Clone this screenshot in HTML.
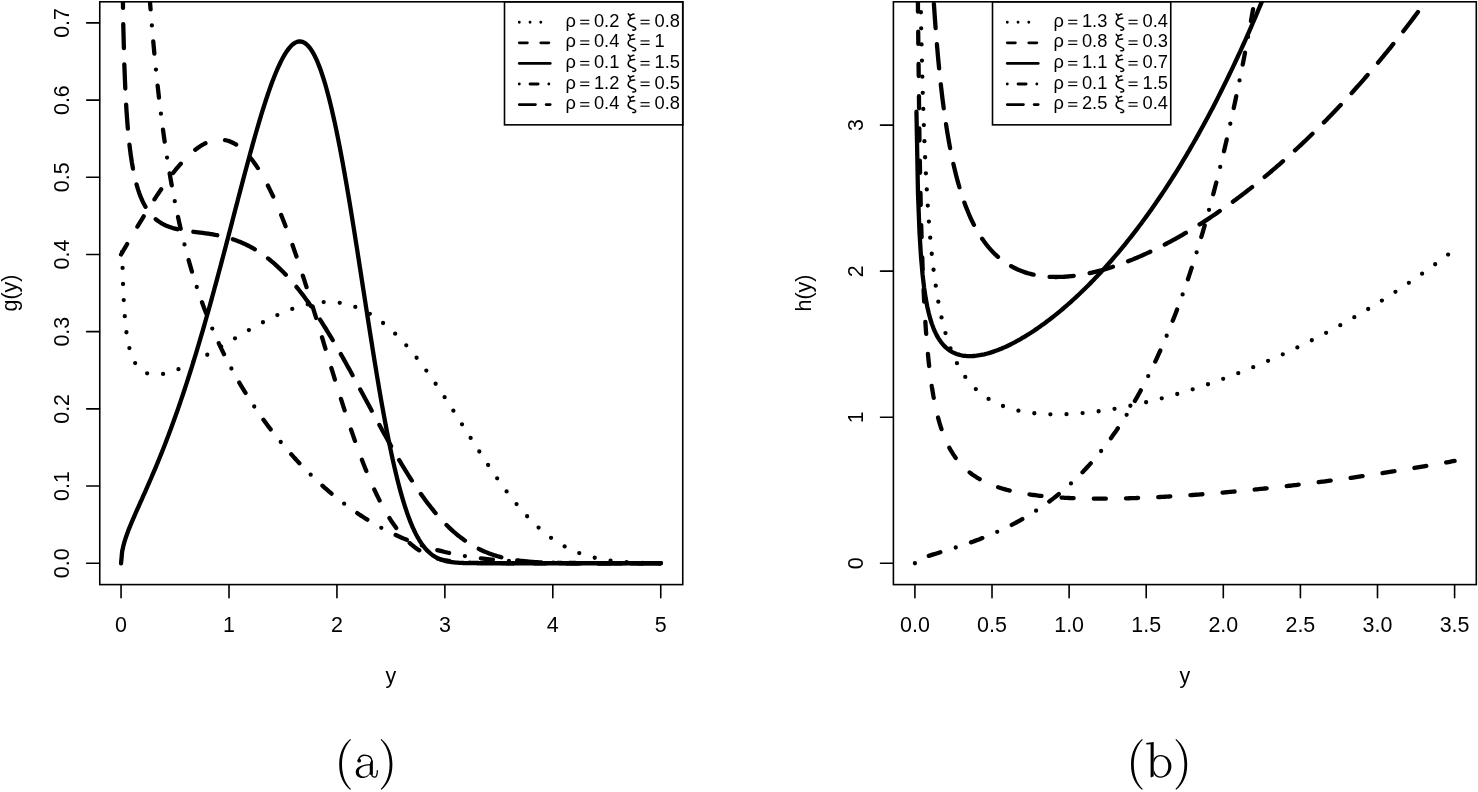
<!DOCTYPE html><html><head><meta charset="utf-8"><style>html,body{margin:0;padding:0;background:#fff;overflow:hidden}svg{display:block;will-change:transform}</style></head><body><svg width="1478" height="792" viewBox="0 0 1478 792"><rect x="0" y="0" width="1478" height="792" fill="#fff"/><defs><clipPath id="cl"><rect x="99.47" y="1.30" width="582.87" height="583.55"/></clipPath><clipPath id="cr"><rect x="893.32" y="1.30" width="582.87" height="583.55"/></clipPath></defs><g clip-path="url(#cl)" fill="none" stroke="#000" stroke-width="4.300" stroke-linecap="round" stroke-linejoin="round"><path d="M122.14 251.78L123.22 290.68L124.30 310.51L125.38 323.26L126.45 332.38L127.53 339.31L128.61 344.79L129.69 349.24L130.77 352.93L131.85 356.04L132.93 358.68L134.01 360.95L135.09 362.91L136.17 364.61L137.25 366.10L138.33 367.40L139.41 368.53L140.49 369.52L141.57 370.39L142.65 371.15L143.72 371.81L144.80 372.38L145.88 372.87L146.96 373.28L148.04 373.63L149.12 373.92L150.20 374.16L151.28 374.34L152.36 374.48L153.44 374.57L154.52 374.62L155.60 374.64L156.68 374.62L157.76 374.56L158.84 374.48L159.92 374.36L161.00 374.22L162.07 374.06L163.15 373.87L164.23 373.65L165.31 373.42L166.39 373.16L167.47 372.89L168.55 372.60L169.63 372.29L170.71 371.96L171.79 371.62L172.87 371.26L173.95 370.88L175.03 370.50L176.11 370.10L177.19 369.69L178.27 369.26L179.34 368.83L180.42 368.38L181.50 367.92L182.58 367.45L183.66 366.98L184.74 366.49L185.82 365.99L186.90 365.49L187.98 364.98L189.06 364.46L190.14 363.93L191.22 363.39L192.30 362.85L193.38 362.30L194.46 361.75L195.54 361.18L196.61 360.62L197.69 360.04L198.77 359.47L199.85 358.88L200.93 358.29L202.01 357.70L203.09 357.10L204.17 356.50L205.25 355.90L206.33 355.29L207.41 354.67L208.49 354.06L209.57 353.44L210.65 352.81L211.73 352.19L212.81 351.56L213.89 350.93L214.96 350.29L216.04 349.66L217.12 349.02L218.20 348.38L219.28 347.74L220.36 347.10L221.44 346.45L222.52 345.81L223.60 345.16L224.68 344.51L225.76 343.86L226.84 343.22L227.92 342.57L229.00 341.92L230.08 341.27L231.16 340.62L232.23 339.97L233.31 339.32L234.39 338.67L235.47 338.03L236.55 337.38L237.63 336.74L238.71 336.09L239.79 335.45L240.87 334.81L241.95 334.17L243.03 333.53L244.11 332.89L245.19 332.26L246.27 331.63L247.35 331.00L248.43 330.37L249.51 329.75L250.58 329.12L251.66 328.51L252.74 327.89L253.82 327.28L254.90 326.67L255.98 326.06L257.06 325.46L258.14 324.87L259.22 324.27L260.30 323.68L261.38 323.10L262.46 322.52L263.54 321.94L264.62 321.37L265.70 320.80L266.78 320.24L267.85 319.69L268.93 319.14L270.01 318.59L271.09 318.05L272.17 317.52L273.25 317.00L274.33 316.48L275.41 315.96L276.49 315.45L277.57 314.95L278.65 314.46L279.73 313.97L280.81 313.49L281.89 313.02L282.97 312.56L284.05 312.10L285.12 311.65L286.20 311.21L287.28 310.78L288.36 310.35L289.44 309.94L290.52 309.53L291.60 309.13L292.68 308.74L293.76 308.36L294.84 307.99L295.92 307.63L297.00 307.28L298.08 306.93L299.16 306.60L300.24 306.28L301.32 305.97L302.40 305.67L303.47 305.38L304.55 305.10L305.63 304.83L306.71 304.57L307.79 304.32L308.87 304.09L309.95 303.87L311.03 303.65L312.11 303.45L313.19 303.27L314.27 303.09L315.35 302.93L316.43 302.78L317.51 302.64L318.59 302.52L319.67 302.40L320.74 302.30L321.82 302.22L322.90 302.15L323.98 302.09L325.06 302.04L326.14 302.01L327.22 302.00L328.30 301.99L329.38 302.00L330.46 302.03L331.54 302.07L332.62 302.13L333.70 302.20L334.78 302.28L335.86 302.38L336.94 302.50L338.01 302.63L339.09 302.77L340.17 302.93L341.25 303.11L342.33 303.31L343.41 303.52L344.49 303.74L345.57 303.98L346.65 304.24L347.73 304.51L348.81 304.80L349.89 305.11L350.97 305.44L352.05 305.78L353.13 306.13L354.21 306.51L355.29 306.90L356.36 307.31L357.44 307.73L358.52 308.18L359.60 308.64L360.68 309.11L361.76 309.61L362.84 310.12L363.92 310.65L365.00 311.20L366.08 311.76L367.16 312.35L368.24 312.95L369.32 313.57L370.40 314.20L371.48 314.86L372.56 315.53L373.63 316.22L374.71 316.92L375.79 317.65L376.87 318.39L377.95 319.15L379.03 319.93L380.11 320.73L381.19 321.55L382.27 322.38L383.35 323.23L384.43 324.10L385.51 324.98L386.59 325.89L387.67 326.81L388.75 327.74L389.83 328.70L390.90 329.67L391.98 330.67L393.06 331.67L394.14 332.70L395.22 333.74L396.30 334.80L397.38 335.88L398.46 336.97L399.54 338.08L400.62 339.21L401.70 340.35L402.78 341.51L403.86 342.69L404.94 343.88L406.02 345.09L407.10 346.31L408.18 347.55L409.25 348.81L410.33 350.08L411.41 351.36L412.49 352.66L413.57 353.98L414.65 355.31L415.73 356.65L416.81 358.01L417.89 359.39L418.97 360.77L420.05 362.17L421.13 363.59L422.21 365.01L423.29 366.45L424.37 367.91L425.45 369.37L426.52 370.85L427.60 372.34L428.68 373.84L429.76 375.35L430.84 376.87L431.92 378.41L433.00 379.95L434.08 381.50L435.16 383.07L436.24 384.64L437.32 386.23L438.40 387.82L439.48 389.42L440.56 391.03L441.64 392.65L442.72 394.28L443.80 395.91L444.87 397.55L445.95 399.20L447.03 400.85L448.11 402.51L449.19 404.18L450.27 405.85L451.35 407.53L452.43 409.21L453.51 410.89L454.59 412.58L455.67 414.27L456.75 415.97L457.83 417.67L458.91 419.37L459.99 421.08L461.07 422.78L462.14 424.49L463.22 426.20L464.30 427.91L465.38 429.62L466.46 431.32L467.54 433.03L468.62 434.74L469.70 436.45L470.78 438.15L471.86 439.86L472.94 441.56L474.02 443.25L475.10 444.95L476.18 446.64L477.26 448.33L478.34 450.01L479.41 451.69L480.49 453.36L481.57 455.03L482.65 456.69L483.73 458.35L484.81 460.00L485.89 461.64L486.97 463.28L488.05 464.91L489.13 466.53L490.21 468.14L491.29 469.75L492.37 471.34L493.45 472.93L494.53 474.50L495.61 476.07L496.69 477.63L497.76 479.17L498.84 480.71L499.92 482.23L501.00 483.74L502.08 485.25L503.16 486.73L504.24 488.21L505.32 489.68L506.40 491.13L507.48 492.57L508.56 493.99L509.64 495.40L510.72 496.80L511.80 498.19L512.88 499.56L513.96 500.91L515.03 502.25L516.11 503.58L517.19 504.89L518.27 506.19L519.35 507.47L520.43 508.74L521.51 509.99L522.59 511.22L523.67 512.44L524.75 513.64L525.83 514.83L526.91 516.00L527.99 517.15L529.07 518.29L530.15 519.41L531.23 520.51L532.30 521.60L533.38 522.67L534.46 523.73L535.54 524.76L536.62 525.78L537.70 526.79L538.78 527.77L539.86 528.74L540.94 529.69L542.02 530.63L543.10 531.55L544.18 532.45L545.26 533.33L546.34 534.20L547.42 535.05L548.50 535.89L549.58 536.70L550.65 537.51L551.73 538.29L552.81 539.06L553.89 539.81L554.97 540.55L556.05 541.27L557.13 541.97L558.21 542.66L559.29 543.33L560.37 543.99L561.45 544.63L562.53 545.25L563.61 545.86L564.69 546.46L565.77 547.04L566.85 547.60L567.92 548.16L569.00 548.69L570.08 549.21L571.16 549.72L572.24 550.22L573.32 550.70L574.40 551.17L575.48 551.62L576.56 552.06L577.64 552.49L578.72 552.91L579.80 553.31L580.88 553.71L581.96 554.09L583.04 554.45L584.12 554.81L585.19 555.16L586.27 555.49L587.35 555.81L588.43 556.13L589.51 556.43L590.59 556.72L591.67 557.00L592.75 557.28L593.83 557.54L594.91 557.79L595.99 558.04L597.07 558.27L598.15 558.50L599.23 558.72L600.31 558.93L601.39 559.13L602.47 559.33L603.54 559.52L604.62 559.70L605.70 559.87L606.78 560.03L607.86 560.19L608.94 560.35L610.02 560.49L611.10 560.63L612.18 560.77L613.26 560.89L614.34 561.02L615.42 561.13L616.50 561.25L617.58 561.35L618.66 561.46L619.74 561.55L620.81 561.65L621.89 561.74L622.97 561.82L624.05 561.90L625.13 561.98L626.21 562.05L627.29 562.12L628.37 562.18L629.45 562.25L630.53 562.31L631.61 562.36L632.69 562.42L633.77 562.47L634.85 562.51L635.93 562.56L637.01 562.60L638.09 562.64L639.16 562.68L640.24 562.72L641.32 562.75L642.40 562.78L643.48 562.81L644.56 562.84L645.64 562.87L646.72 562.89L647.80 562.92L648.88 562.94L649.96 562.96L651.04 562.98L652.12 563.00L653.20 563.01L654.28 563.03L655.36 563.05L656.43 563.06L657.51 563.07L658.59 563.09L659.67 563.10L660.75 563.11" stroke-dasharray="0 16.120"/><path d="M121.06 254.48L122.14 252.63L123.22 250.78L124.30 248.93L125.38 247.08L126.45 245.24L127.53 243.40L128.61 241.56L129.69 239.72L130.77 237.89L131.85 236.07L132.93 234.24L134.01 232.42L135.09 230.61L136.17 228.80L137.25 227.00L138.33 225.20L139.41 223.41L140.49 221.63L141.57 219.85L142.65 218.08L143.72 216.32L144.80 214.57L145.88 212.82L146.96 211.09L148.04 209.36L149.12 207.65L150.20 205.94L151.28 204.24L152.36 202.56L153.44 200.89L154.52 199.23L155.60 197.58L156.68 195.94L157.76 194.32L158.84 192.71L159.92 191.12L161.00 189.53L162.07 187.97L163.15 186.42L164.23 184.89L165.31 183.37L166.39 181.87L167.47 180.38L168.55 178.92L169.63 177.47L170.71 176.04L171.79 174.64L172.87 173.25L173.95 171.88L175.03 170.53L176.11 169.20L177.19 167.90L178.27 166.62L179.34 165.36L180.42 164.12L181.50 162.91L182.58 161.72L183.66 160.56L184.74 159.42L185.82 158.31L186.90 157.23L187.98 156.17L189.06 155.14L190.14 154.14L191.22 153.16L192.30 152.22L193.38 151.30L194.46 150.42L195.54 149.57L196.61 148.75L197.69 147.96L198.77 147.20L199.85 146.47L200.93 145.78L202.01 145.12L203.09 144.50L204.17 143.91L205.25 143.36L206.33 142.84L207.41 142.36L208.49 141.92L209.57 141.51L210.65 141.14L211.73 140.81L212.81 140.52L213.89 140.27L214.96 140.06L216.04 139.89L217.12 139.76L218.20 139.67L219.28 139.62L220.36 139.62L221.44 139.65L222.52 139.73L223.60 139.86L224.68 140.02L225.76 140.24L226.84 140.49L227.92 140.79L229.00 141.14L230.08 141.53L231.16 141.97L232.23 142.45L233.31 142.98L234.39 143.56L235.47 144.18L236.55 144.85L237.63 145.57L238.71 146.34L239.79 147.15L240.87 148.02L241.95 148.93L243.03 149.89L244.11 150.90L245.19 151.96L246.27 153.06L247.35 154.22L248.43 155.43L249.51 156.68L250.58 157.99L251.66 159.34L252.74 160.74L253.82 162.20L254.90 163.70L255.98 165.25L257.06 166.85L258.14 168.50L259.22 170.20L260.30 171.95L261.38 173.75L262.46 175.59L263.54 177.49L264.62 179.43L265.70 181.42L266.78 183.46L267.85 185.55L268.93 187.68L270.01 189.86L271.09 192.08L272.17 194.36L273.25 196.67L274.33 199.04L275.41 201.44L276.49 203.89L277.57 206.39L278.65 208.93L279.73 211.51L280.81 214.13L281.89 216.80L282.97 219.50L284.05 222.24L285.12 225.03L286.20 227.85L287.28 230.71L288.36 233.61L289.44 236.54L290.52 239.51L291.60 242.52L292.68 245.55L293.76 248.62L294.84 251.73L295.92 254.86L297.00 258.03L298.08 261.22L299.16 264.44L300.24 267.69L301.32 270.96L302.40 274.26L303.47 277.59L304.55 280.94L305.63 284.30L306.71 287.69L307.79 291.10L308.87 294.53L309.95 297.98L311.03 301.44L312.11 304.91L313.19 308.40L314.27 311.91L315.35 315.42L316.43 318.94L317.51 322.47L318.59 326.01L319.67 329.56L320.74 333.11L321.82 336.67L322.90 340.22L323.98 343.78L325.06 347.34L326.14 350.90L327.22 354.45L328.30 358.00L329.38 361.54L330.46 365.08L331.54 368.61L332.62 372.13L333.70 375.64L334.78 379.14L335.86 382.63L336.94 386.10L338.01 389.55L339.09 392.99L340.17 396.42L341.25 399.82L342.33 403.20L343.41 406.56L344.49 409.90L345.57 413.22L346.65 416.51L347.73 419.77L348.81 423.01L349.89 426.22L350.97 429.40L352.05 432.55L353.13 435.67L354.21 438.76L355.29 441.82L356.36 444.84L357.44 447.83L358.52 450.78L359.60 453.70L360.68 456.58L361.76 459.42L362.84 462.23L363.92 464.99L365.00 467.72L366.08 470.40L367.16 473.05L368.24 475.65L369.32 478.22L370.40 480.74L371.48 483.22L372.56 485.65L373.63 488.04L374.71 490.39L375.79 492.70L376.87 494.96L377.95 497.18L379.03 499.35L380.11 501.48L381.19 503.56L382.27 505.60L383.35 507.59L384.43 509.54L385.51 511.45L386.59 513.31L387.67 515.12L388.75 516.90L389.83 518.62L390.90 520.31L391.98 521.95L393.06 523.55L394.14 525.10L395.22 526.61L396.30 528.08L397.38 529.51L398.46 530.90L399.54 532.25L400.62 533.55L401.70 534.82L402.78 536.04L403.86 537.23L404.94 538.38L406.02 539.49L407.10 540.57L408.18 541.61L409.25 542.61L410.33 543.58L411.41 544.51L412.49 545.41L413.57 546.28L414.65 547.11L415.73 547.91L416.81 548.68L417.89 549.43L418.97 550.14L420.05 550.82L421.13 551.47L422.21 552.10L423.29 552.70L424.37 553.28L425.45 553.83L426.52 554.35L427.60 554.85L428.68 555.33L429.76 555.79L430.84 556.22L431.92 556.64L433.00 557.03L434.08 557.41L435.16 557.76L436.24 558.10L437.32 558.42L438.40 558.73L439.48 559.02L440.56 559.29L441.64 559.55L442.72 559.79L443.80 560.02L444.87 560.24L445.95 560.44L447.03 560.64L448.11 560.82L449.19 560.99L450.27 561.15L451.35 561.30L452.43 561.44L453.51 561.57L454.59 561.70L455.67 561.81L456.75 561.92L457.83 562.02L458.91 562.12L459.99 562.21L461.07 562.29L462.14 562.36L463.22 562.43L464.30 562.50L465.38 562.56L466.46 562.62L467.54 562.67L468.62 562.72L469.70 562.76L470.78 562.81L471.86 562.84L472.94 562.88L474.02 562.91L475.10 562.94L476.18 562.97L477.26 562.99L478.34 563.02L479.41 563.04L480.49 563.06L481.57 563.07L482.65 563.09L483.73 563.10L484.81 563.12L485.89 563.13L486.97 563.14L488.05 563.15L489.13 563.16L490.21 563.17L491.29 563.18L492.37 563.18L493.45 563.19L494.53 563.19L495.61 563.20L496.69 563.20L497.76 563.21L498.84 563.21L499.92 563.21L501.00 563.22L502.08 563.22L503.16 563.22L504.24 563.22L505.32 563.22L506.40 563.23L507.48 563.23L508.56 563.23L509.64 563.23L510.72 563.23L511.80 563.23L512.88 563.23L513.96 563.23L515.03 563.23L516.11 563.23L517.19 563.23L518.27 563.23L519.35 563.23L520.43 563.24L521.51 563.24L522.59 563.24L523.67 563.24L524.75 563.24L525.83 563.24L526.91 563.24L527.99 563.24L529.07 563.24L530.15 563.24L531.23 563.24L532.30 563.24L533.38 563.24L534.46 563.24L535.54 563.24L536.62 563.24L537.70 563.24L538.78 563.24L539.86 563.24L540.94 563.24L542.02 563.24L543.10 563.24L544.18 563.24L545.26 563.24L546.34 563.24L547.42 563.24L548.50 563.24L549.58 563.24L550.65 563.24L551.73 563.24L552.81 563.24L553.89 563.24L554.97 563.24L556.05 563.24L557.13 563.24L558.21 563.24L559.29 563.24L560.37 563.24L561.45 563.24L562.53 563.24L563.61 563.24L564.69 563.24L565.77 563.24L566.85 563.24L567.92 563.24L569.00 563.24L570.08 563.24L571.16 563.24L572.24 563.24L573.32 563.24L574.40 563.24L575.48 563.24L576.56 563.24L577.64 563.24L578.72 563.24L579.80 563.24L580.88 563.24L581.96 563.24L583.04 563.24L584.12 563.24L585.19 563.24L586.27 563.24L587.35 563.24L588.43 563.24L589.51 563.24L590.59 563.24L591.67 563.24L592.75 563.24L593.83 563.24L594.91 563.24L595.99 563.24L597.07 563.24L598.15 563.24L599.23 563.24L600.31 563.24L601.39 563.24L602.47 563.24L603.54 563.24L604.62 563.24L605.70 563.24L606.78 563.24L607.86 563.24L608.94 563.24L610.02 563.24L611.10 563.24L612.18 563.24L613.26 563.24L614.34 563.24L615.42 563.24L616.50 563.24L617.58 563.24L618.66 563.24L619.74 563.24L620.81 563.24L621.89 563.24L622.97 563.24L624.05 563.24L625.13 563.24L626.21 563.24L627.29 563.24L628.37 563.24L629.45 563.24L630.53 563.24L631.61 563.24L632.69 563.24L633.77 563.24L634.85 563.24L635.93 563.24L637.01 563.24L638.09 563.24L639.16 563.24L640.24 563.24L641.32 563.24L642.40 563.24L643.48 563.24L644.56 563.24L645.64 563.24L646.72 563.24L647.80 563.24L648.88 563.24L649.96 563.24L651.04 563.24L652.12 563.24L653.20 563.24L654.28 563.24L655.36 563.24L656.43 563.24L657.51 563.24L658.59 563.24L659.67 563.24L660.75 563.24" stroke-dasharray="12.090 20.150"/><path d="M121.06 563.24L122.14 551.51L123.22 546.45L124.30 542.43L125.38 538.91L126.45 535.71L127.53 532.71L128.61 529.86L129.69 527.13L130.77 524.47L131.85 521.88L132.93 519.34L134.01 516.84L135.09 514.36L136.17 511.91L137.25 509.47L138.33 507.05L139.41 504.63L140.49 502.21L141.57 499.80L142.65 497.38L143.72 494.96L144.80 492.54L145.88 490.10L146.96 487.65L148.04 485.20L149.12 482.72L150.20 480.24L151.28 477.74L152.36 475.22L153.44 472.69L154.52 470.13L155.60 467.56L156.68 464.97L157.76 462.35L158.84 459.72L159.92 457.06L161.00 454.39L162.07 451.68L163.15 448.96L164.23 446.21L165.31 443.43L166.39 440.64L167.47 437.81L168.55 434.96L169.63 432.09L170.71 429.19L171.79 426.26L172.87 423.30L173.95 420.32L175.03 417.31L176.11 414.27L177.19 411.21L178.27 408.12L179.34 405.00L180.42 401.85L181.50 398.67L182.58 395.47L183.66 392.24L184.74 388.98L185.82 385.69L186.90 382.37L187.98 379.03L189.06 375.65L190.14 372.25L191.22 368.82L192.30 365.36L193.38 361.88L194.46 358.37L195.54 354.83L196.61 351.26L197.69 347.66L198.77 344.04L199.85 340.40L200.93 336.72L202.01 333.03L203.09 329.30L204.17 325.55L205.25 321.78L206.33 317.99L207.41 314.16L208.49 310.32L209.57 306.46L210.65 302.57L211.73 298.66L212.81 294.73L213.89 290.78L214.96 286.81L216.04 282.83L217.12 278.82L218.20 274.80L219.28 270.77L220.36 266.71L221.44 262.65L222.52 258.57L223.60 254.48L224.68 250.38L225.76 246.26L226.84 242.14L227.92 238.01L229.00 233.88L230.08 229.74L231.16 225.59L232.23 221.44L233.31 217.30L234.39 213.15L235.47 209.00L236.55 204.86L237.63 200.72L238.71 196.58L239.79 192.46L240.87 188.34L241.95 184.23L243.03 180.14L244.11 176.06L245.19 172.00L246.27 167.96L247.35 163.94L248.43 159.94L249.51 155.96L250.58 152.01L251.66 148.09L252.74 144.20L253.82 140.35L254.90 136.53L255.98 132.74L257.06 129.00L258.14 125.29L259.22 121.64L260.30 118.02L261.38 114.46L262.46 110.95L263.54 107.50L264.62 104.10L265.70 100.76L266.78 97.48L267.85 94.27L268.93 91.12L270.01 88.04L271.09 85.04L272.17 82.11L273.25 79.26L274.33 76.50L275.41 73.81L276.49 71.21L277.57 68.70L278.65 66.29L279.73 63.97L280.81 61.74L281.89 59.62L282.97 57.60L284.05 55.68L285.12 53.88L286.20 52.18L287.28 50.60L288.36 49.14L289.44 47.79L290.52 46.57L291.60 45.47L292.68 44.50L293.76 43.66L294.84 42.95L295.92 42.38L297.00 41.94L298.08 41.64L299.16 41.48L300.24 41.46L301.32 41.59L302.40 41.87L303.47 42.29L304.55 42.87L305.63 43.59L306.71 44.47L307.79 45.51L308.87 46.70L309.95 48.05L311.03 49.55L312.11 51.22L313.19 53.04L314.27 55.03L315.35 57.18L316.43 59.48L317.51 61.95L318.59 64.58L319.67 67.38L320.74 70.33L321.82 73.44L322.90 76.71L323.98 80.15L325.06 83.73L326.14 87.48L327.22 91.38L328.30 95.43L329.38 99.64L330.46 103.99L331.54 108.49L332.62 113.14L333.70 117.92L334.78 122.85L335.86 127.91L336.94 133.11L338.01 138.44L339.09 143.89L340.17 149.46L341.25 155.15L342.33 160.96L343.41 166.88L344.49 172.90L345.57 179.02L346.65 185.24L347.73 191.55L348.81 197.95L349.89 204.42L350.97 210.97L352.05 217.59L353.13 224.28L354.21 231.02L355.29 237.81L356.36 244.65L357.44 251.53L358.52 258.44L359.60 265.38L360.68 272.34L361.76 279.32L362.84 286.30L363.92 293.29L365.00 300.27L366.08 307.24L367.16 314.19L368.24 321.12L369.32 328.02L370.40 334.88L371.48 341.71L372.56 348.48L373.63 355.20L374.71 361.86L375.79 368.45L376.87 374.98L377.95 381.42L379.03 387.79L380.11 394.07L381.19 400.26L382.27 406.35L383.35 412.34L384.43 418.22L385.51 424.00L386.59 429.66L387.67 435.21L388.75 440.64L389.83 445.95L390.90 451.13L391.98 456.19L393.06 461.11L394.14 465.90L395.22 470.57L396.30 475.09L397.38 479.48L398.46 483.74L399.54 487.86L400.62 491.84L401.70 495.68L402.78 499.39L403.86 502.96L404.94 506.40L406.02 509.70L407.10 512.87L408.18 515.91L409.25 518.82L410.33 521.60L411.41 524.25L412.49 526.79L413.57 529.20L414.65 531.49L415.73 533.67L416.81 535.73L417.89 537.69L418.97 539.54L420.05 541.28L421.13 542.93L422.21 544.48L423.29 545.94L424.37 547.31L425.45 548.59L426.52 549.79L427.60 550.91L428.68 551.95L429.76 552.92L430.84 553.83L431.92 554.67L433.00 555.45L434.08 556.16L435.16 556.83L436.24 557.44L437.32 558.00L438.40 558.52L439.48 558.99L440.56 559.43L441.64 559.82L442.72 560.18L443.80 560.51L444.87 560.81L445.95 561.08L447.03 561.32L448.11 561.54L449.19 561.74L450.27 561.91L451.35 562.07L452.43 562.21L453.51 562.34L454.59 562.45L455.67 562.55L456.75 562.64L457.83 562.72L458.91 562.79L459.99 562.85L461.07 562.90L462.14 562.95L463.22 562.99L464.30 563.03L465.38 563.06L466.46 563.09L467.54 563.11L468.62 563.13L469.70 563.15L470.78 563.16L471.86 563.17L472.94 563.18L474.02 563.19L475.10 563.20L476.18 563.21L477.26 563.21L478.34 563.22L479.41 563.22L480.49 563.22L481.57 563.23L482.65 563.23L483.73 563.23L484.81 563.23L485.89 563.23L486.97 563.23L488.05 563.23L489.13 563.23L490.21 563.24L491.29 563.24L492.37 563.24L493.45 563.24L494.53 563.24L495.61 563.24L496.69 563.24L497.76 563.24L498.84 563.24L499.92 563.24L501.00 563.24L502.08 563.24L503.16 563.24L504.24 563.24L505.32 563.24L506.40 563.24L507.48 563.24L508.56 563.24L509.64 563.24L510.72 563.24L511.80 563.24L512.88 563.24L513.96 563.24L515.03 563.24L516.11 563.24L517.19 563.24L518.27 563.24L519.35 563.24L520.43 563.24L521.51 563.24L522.59 563.24L523.67 563.24L524.75 563.24L525.83 563.24L526.91 563.24L527.99 563.24L529.07 563.24L530.15 563.24L531.23 563.24L532.30 563.24L533.38 563.24L534.46 563.24L535.54 563.24L536.62 563.24L537.70 563.24L538.78 563.24L539.86 563.24L540.94 563.24L542.02 563.24L543.10 563.24L544.18 563.24L545.26 563.24L546.34 563.24L547.42 563.24L548.50 563.24L549.58 563.24L550.65 563.24L551.73 563.24L552.81 563.24L553.89 563.24L554.97 563.24L556.05 563.24L557.13 563.24L558.21 563.24L559.29 563.24L560.37 563.24L561.45 563.24L562.53 563.24L563.61 563.24L564.69 563.24L565.77 563.24L566.85 563.24L567.92 563.24L569.00 563.24L570.08 563.24L571.16 563.24L572.24 563.24L573.32 563.24L574.40 563.24L575.48 563.24L576.56 563.24L577.64 563.24L578.72 563.24L579.80 563.24L580.88 563.24L581.96 563.24L583.04 563.24L584.12 563.24L585.19 563.24L586.27 563.24L587.35 563.24L588.43 563.24L589.51 563.24L590.59 563.24L591.67 563.24L592.75 563.24L593.83 563.24L594.91 563.24L595.99 563.24L597.07 563.24L598.15 563.24L599.23 563.24L600.31 563.24L601.39 563.24L602.47 563.24L603.54 563.24L604.62 563.24L605.70 563.24L606.78 563.24L607.86 563.24L608.94 563.24L610.02 563.24L611.10 563.24L612.18 563.24L613.26 563.24L614.34 563.24L615.42 563.24L616.50 563.24L617.58 563.24L618.66 563.24L619.74 563.24L620.81 563.24L621.89 563.24L622.97 563.24L624.05 563.24L625.13 563.24L626.21 563.24L627.29 563.24L628.37 563.24L629.45 563.24L630.53 563.24L631.61 563.24L632.69 563.24L633.77 563.24L634.85 563.24L635.93 563.24L637.01 563.24L638.09 563.24L639.16 563.24L640.24 563.24L641.32 563.24L642.40 563.24L643.48 563.24L644.56 563.24L645.64 563.24L646.72 563.24L647.80 563.24L648.88 563.24L649.96 563.24L651.04 563.24L652.12 563.24L653.20 563.24L654.28 563.24L655.36 563.24L656.43 563.24L657.51 563.24L658.59 563.24L659.67 563.24L660.75 563.24" /><path d="M145.68 -63.00L145.88 -59.44L146.96 -41.87L148.04 -25.42L149.12 -9.97L150.20 4.56L151.28 18.26L152.36 31.22L153.44 43.49L154.52 55.13L155.60 66.19L156.68 76.73L157.76 86.77L158.84 96.37L159.92 105.54L161.00 114.32L162.07 122.74L163.15 130.82L164.23 138.58L165.31 146.05L166.39 153.25L167.47 160.18L168.55 166.87L169.63 173.32L170.71 179.57L171.79 185.60L172.87 191.45L173.95 197.11L175.03 202.60L176.11 207.92L177.19 213.09L178.27 218.12L179.34 223.00L180.42 227.75L181.50 232.37L182.58 236.87L183.66 241.26L184.74 245.53L185.82 249.70L186.90 253.77L187.98 257.75L189.06 261.63L190.14 265.42L191.22 269.13L192.30 272.76L193.38 276.31L194.46 279.79L195.54 283.19L196.61 286.53L197.69 289.80L198.77 293.00L199.85 296.15L200.93 299.23L202.01 302.26L203.09 305.23L204.17 308.15L205.25 311.02L206.33 313.84L207.41 316.61L208.49 319.34L209.57 322.02L210.65 324.65L211.73 327.25L212.81 329.80L213.89 332.32L214.96 334.80L216.04 337.24L217.12 339.64L218.20 342.01L219.28 344.35L220.36 346.66L221.44 348.93L222.52 351.17L223.60 353.38L224.68 355.57L225.76 357.72L226.84 359.85L227.92 361.95L229.00 364.03L230.08 366.08L231.16 368.10L232.23 370.10L233.31 372.08L234.39 374.04L235.47 375.97L236.55 377.88L237.63 379.77L238.71 381.64L239.79 383.48L240.87 385.31L241.95 387.12L243.03 388.91L244.11 390.68L245.19 392.44L246.27 394.17L247.35 395.89L248.43 397.59L249.51 399.28L250.58 400.95L251.66 402.60L252.74 404.24L253.82 405.86L254.90 407.47L255.98 409.06L257.06 410.64L258.14 412.20L259.22 413.75L260.30 415.28L261.38 416.81L262.46 418.31L263.54 419.81L264.62 421.29L265.70 422.76L266.78 424.22L267.85 425.67L268.93 427.10L270.01 428.52L271.09 429.93L272.17 431.33L273.25 432.72L274.33 434.09L275.41 435.46L276.49 436.81L277.57 438.15L278.65 439.49L279.73 440.81L280.81 442.12L281.89 443.42L282.97 444.71L284.05 445.99L285.12 447.26L286.20 448.52L287.28 449.77L288.36 451.01L289.44 452.25L290.52 453.47L291.60 454.68L292.68 455.89L293.76 457.08L294.84 458.27L295.92 459.44L297.00 460.61L298.08 461.77L299.16 462.92L300.24 464.06L301.32 465.19L302.40 466.32L303.47 467.43L304.55 468.54L305.63 469.64L306.71 470.73L307.79 471.81L308.87 472.88L309.95 473.95L311.03 475.01L312.11 476.06L313.19 477.10L314.27 478.13L315.35 479.16L316.43 480.17L317.51 481.18L318.59 482.18L319.67 483.18L320.74 484.16L321.82 485.14L322.90 486.11L323.98 487.07L325.06 488.03L326.14 488.97L327.22 489.91L328.30 490.85L329.38 491.77L330.46 492.69L331.54 493.60L332.62 494.50L333.70 495.39L334.78 496.28L335.86 497.16L336.94 498.03L338.01 498.90L339.09 499.75L340.17 500.61L341.25 501.45L342.33 502.28L343.41 503.11L344.49 503.93L345.57 504.75L346.65 505.56L347.73 506.36L348.81 507.15L349.89 507.93L350.97 508.71L352.05 509.48L353.13 510.25L354.21 511.01L355.29 511.76L356.36 512.50L357.44 513.24L358.52 513.97L359.60 514.69L360.68 515.41L361.76 516.11L362.84 516.82L363.92 517.51L365.00 518.20L366.08 518.88L367.16 519.56L368.24 520.22L369.32 520.89L370.40 521.54L371.48 522.19L372.56 522.83L373.63 523.46L374.71 524.09L375.79 524.71L376.87 525.33L377.95 525.94L379.03 526.54L380.11 527.13L381.19 527.72L382.27 528.30L383.35 528.88L384.43 529.45L385.51 530.01L386.59 530.57L387.67 531.12L388.75 531.66L389.83 532.20L390.90 532.73L391.98 533.25L393.06 533.77L394.14 534.28L395.22 534.79L396.30 535.29L397.38 535.78L398.46 536.27L399.54 536.75L400.62 537.23L401.70 537.70L402.78 538.16L403.86 538.62L404.94 539.07L406.02 539.52L407.10 539.96L408.18 540.40L409.25 540.82L410.33 541.25L411.41 541.66L412.49 542.08L413.57 542.48L414.65 542.88L415.73 543.28L416.81 543.67L417.89 544.05L418.97 544.43L420.05 544.80L421.13 545.17L422.21 545.53L423.29 545.89L424.37 546.24L425.45 546.59L426.52 546.93L427.60 547.27L428.68 547.60L429.76 547.92L430.84 548.24L431.92 548.56L433.00 548.87L434.08 549.18L435.16 549.48L436.24 549.78L437.32 550.07L438.40 550.35L439.48 550.64L440.56 550.91L441.64 551.19L442.72 551.46L443.80 551.72L444.87 551.98L445.95 552.23L447.03 552.48L448.11 552.73L449.19 552.97L450.27 553.21L451.35 553.44L452.43 553.67L453.51 553.90L454.59 554.12L455.67 554.34L456.75 554.55L457.83 554.76L458.91 554.96L459.99 555.17L461.07 555.36L462.14 555.56L463.22 555.75L464.30 555.93L465.38 556.12L466.46 556.30L467.54 556.47L468.62 556.64L469.70 556.81L470.78 556.98L471.86 557.14L472.94 557.30L474.02 557.45L475.10 557.60L476.18 557.75L477.26 557.90L478.34 558.04L479.41 558.18L480.49 558.32L481.57 558.45L482.65 558.58L483.73 558.71L484.81 558.84L485.89 558.96L486.97 559.08L488.05 559.19L489.13 559.31L490.21 559.42L491.29 559.53L492.37 559.64L493.45 559.74L494.53 559.84L495.61 559.94L496.69 560.04L497.76 560.13L498.84 560.22L499.92 560.31L501.00 560.40L502.08 560.49L503.16 560.57L504.24 560.65L505.32 560.73L506.40 560.81L507.48 560.88L508.56 560.96L509.64 561.03L510.72 561.10L511.80 561.17L512.88 561.23L513.96 561.30L515.03 561.36L516.11 561.42L517.19 561.48L518.27 561.54L519.35 561.59L520.43 561.65L521.51 561.70L522.59 561.75L523.67 561.80L524.75 561.85L525.83 561.90L526.91 561.94L527.99 561.99L529.07 562.03L530.15 562.07L531.23 562.11L532.30 562.15L533.38 562.19L534.46 562.23L535.54 562.26L536.62 562.30L537.70 562.33L538.78 562.37L539.86 562.40L540.94 562.43L542.02 562.46L543.10 562.49L544.18 562.52L545.26 562.54L546.34 562.57L547.42 562.59L548.50 562.62L549.58 562.64L550.65 562.67L551.73 562.69L552.81 562.71L553.89 562.73L554.97 562.75L556.05 562.77L557.13 562.79L558.21 562.81L559.29 562.82L560.37 562.84L561.45 562.86L562.53 562.87L563.61 562.89L564.69 562.90L565.77 562.91L566.85 562.93L567.92 562.94L569.00 562.95L570.08 562.97L571.16 562.98L572.24 562.99L573.32 563.00L574.40 563.01L575.48 563.02L576.56 563.03L577.64 563.04L578.72 563.05L579.80 563.06L580.88 563.06L581.96 563.07L583.04 563.08L584.12 563.09L585.19 563.09L586.27 563.10L587.35 563.11L588.43 563.11L589.51 563.12L590.59 563.12L591.67 563.13L592.75 563.13L593.83 563.14L594.91 563.14L595.99 563.15L597.07 563.15L598.15 563.16L599.23 563.16L600.31 563.16L601.39 563.17L602.47 563.17L603.54 563.17L604.62 563.18L605.70 563.18L606.78 563.18L607.86 563.19L608.94 563.19L610.02 563.19L611.10 563.19L612.18 563.20L613.26 563.20L614.34 563.20L615.42 563.20L616.50 563.20L617.58 563.21L618.66 563.21L619.74 563.21L620.81 563.21L621.89 563.21L622.97 563.21L624.05 563.21L625.13 563.22L626.21 563.22L627.29 563.22L628.37 563.22L629.45 563.22L630.53 563.22L631.61 563.22L632.69 563.22L633.77 563.22L634.85 563.22L635.93 563.23L637.01 563.23L638.09 563.23L639.16 563.23L640.24 563.23L641.32 563.23L642.40 563.23L643.48 563.23L644.56 563.23L645.64 563.23L646.72 563.23L647.80 563.23L648.88 563.23L649.96 563.23L651.04 563.23L652.12 563.23L653.20 563.23L654.28 563.23L655.36 563.23L656.43 563.23L657.51 563.23L658.59 563.23L659.67 563.23L660.75 563.23" stroke-dasharray="0 16.120 12.090 16.120"/><path d="M122.14 -56.54L123.22 22.91L124.30 63.93L125.38 90.65L126.45 110.01L127.53 124.94L128.61 136.91L129.69 146.80L130.77 155.14L131.85 162.29L132.93 168.49L134.01 173.94L135.09 178.76L136.17 183.05L137.25 186.91L138.33 190.38L139.41 193.53L140.49 196.39L141.57 199.00L142.65 201.39L143.72 203.58L144.80 205.59L145.88 207.45L146.96 209.16L148.04 210.75L149.12 212.22L150.20 213.58L151.28 214.84L152.36 216.02L153.44 217.11L154.52 218.13L155.60 219.08L156.68 219.96L157.76 220.79L158.84 221.56L159.92 222.27L161.00 222.95L162.07 223.57L163.15 224.16L164.23 224.71L165.31 225.22L166.39 225.70L167.47 226.15L168.55 226.58L169.63 226.97L170.71 227.34L171.79 227.69L172.87 228.02L173.95 228.32L175.03 228.61L176.11 228.88L177.19 229.14L178.27 229.38L179.34 229.61L180.42 229.82L181.50 230.03L182.58 230.22L183.66 230.41L184.74 230.58L185.82 230.75L186.90 230.91L187.98 231.07L189.06 231.22L190.14 231.36L191.22 231.51L192.30 231.65L193.38 231.78L194.46 231.92L195.54 232.05L196.61 232.18L197.69 232.31L198.77 232.45L199.85 232.58L200.93 232.72L202.01 232.85L203.09 232.99L204.17 233.13L205.25 233.28L206.33 233.43L207.41 233.58L208.49 233.74L209.57 233.90L210.65 234.07L211.73 234.24L212.81 234.42L213.89 234.60L214.96 234.80L216.04 235.00L217.12 235.20L218.20 235.42L219.28 235.64L220.36 235.87L221.44 236.11L222.52 236.36L223.60 236.62L224.68 236.89L225.76 237.17L226.84 237.46L227.92 237.75L229.00 238.06L230.08 238.38L231.16 238.72L232.23 239.06L233.31 239.42L234.39 239.78L235.47 240.16L236.55 240.56L237.63 240.96L238.71 241.38L239.79 241.81L240.87 242.26L241.95 242.72L243.03 243.19L244.11 243.67L245.19 244.18L246.27 244.69L247.35 245.22L248.43 245.76L249.51 246.32L250.58 246.90L251.66 247.49L252.74 248.09L253.82 248.71L254.90 249.35L255.98 250.00L257.06 250.67L258.14 251.36L259.22 252.06L260.30 252.78L261.38 253.51L262.46 254.26L263.54 255.03L264.62 255.81L265.70 256.62L266.78 257.44L267.85 258.27L268.93 259.12L270.01 260.00L271.09 260.88L272.17 261.79L273.25 262.71L274.33 263.65L275.41 264.61L276.49 265.59L277.57 266.58L278.65 267.59L279.73 268.62L280.81 269.67L281.89 270.74L282.97 271.82L284.05 272.92L285.12 274.04L286.20 275.18L287.28 276.33L288.36 277.51L289.44 278.70L290.52 279.91L291.60 281.13L292.68 282.38L293.76 283.64L294.84 284.92L295.92 286.22L297.00 287.53L298.08 288.87L299.16 290.22L300.24 291.58L301.32 292.97L302.40 294.37L303.47 295.79L304.55 297.22L305.63 298.68L306.71 300.15L307.79 301.63L308.87 303.13L309.95 304.65L311.03 306.19L312.11 307.74L313.19 309.30L314.27 310.88L315.35 312.48L316.43 314.09L317.51 315.72L318.59 317.36L319.67 319.02L320.74 320.69L321.82 322.38L322.90 324.07L323.98 325.79L325.06 327.51L326.14 329.25L327.22 331.01L328.30 332.77L329.38 334.55L330.46 336.34L331.54 338.15L332.62 339.96L333.70 341.79L334.78 343.62L335.86 345.47L336.94 347.33L338.01 349.20L339.09 351.08L340.17 352.96L341.25 354.86L342.33 356.77L343.41 358.68L344.49 360.60L345.57 362.54L346.65 364.47L347.73 366.42L348.81 368.37L349.89 370.33L350.97 372.30L352.05 374.27L353.13 376.24L354.21 378.22L355.29 380.21L356.36 382.20L357.44 384.19L358.52 386.19L359.60 388.19L360.68 390.20L361.76 392.20L362.84 394.21L363.92 396.22L365.00 398.23L366.08 400.24L367.16 402.25L368.24 404.26L369.32 406.27L370.40 408.28L371.48 410.28L372.56 412.29L373.63 414.29L374.71 416.29L375.79 418.29L376.87 420.29L377.95 422.28L379.03 424.26L380.11 426.25L381.19 428.22L382.27 430.19L383.35 432.16L384.43 434.12L385.51 436.07L386.59 438.01L387.67 439.95L388.75 441.88L389.83 443.80L390.90 445.71L391.98 447.61L393.06 449.51L394.14 451.39L395.22 453.27L396.30 455.13L397.38 456.98L398.46 458.82L399.54 460.65L400.62 462.47L401.70 464.27L402.78 466.06L403.86 467.84L404.94 469.61L406.02 471.36L407.10 473.10L408.18 474.82L409.25 476.53L410.33 478.23L411.41 479.91L412.49 481.57L413.57 483.22L414.65 484.85L415.73 486.47L416.81 488.07L417.89 489.65L418.97 491.22L420.05 492.77L421.13 494.30L422.21 495.81L423.29 497.31L424.37 498.79L425.45 500.25L426.52 501.69L427.60 503.12L428.68 504.52L429.76 505.91L430.84 507.28L431.92 508.63L433.00 509.96L434.08 511.27L435.16 512.56L436.24 513.83L437.32 515.09L438.40 516.32L439.48 517.54L440.56 518.73L441.64 519.91L442.72 521.06L443.80 522.20L444.87 523.32L445.95 524.42L447.03 525.49L448.11 526.55L449.19 527.59L450.27 528.61L451.35 529.61L452.43 530.59L453.51 531.55L454.59 532.50L455.67 533.42L456.75 534.33L457.83 535.21L458.91 536.08L459.99 536.93L461.07 537.76L462.14 538.57L463.22 539.36L464.30 540.14L465.38 540.89L466.46 541.63L467.54 542.36L468.62 543.06L469.70 543.75L470.78 544.42L471.86 545.07L472.94 545.71L474.02 546.33L475.10 546.93L476.18 547.52L477.26 548.09L478.34 548.65L479.41 549.19L480.49 549.72L481.57 550.23L482.65 550.72L483.73 551.20L484.81 551.67L485.89 552.13L486.97 552.57L488.05 552.99L489.13 553.41L490.21 553.81L491.29 554.19L492.37 554.57L493.45 554.93L494.53 555.28L495.61 555.62L496.69 555.95L497.76 556.27L498.84 556.57L499.92 556.87L501.00 557.15L502.08 557.42L503.16 557.69L504.24 557.94L505.32 558.19L506.40 558.42L507.48 558.65L508.56 558.87L509.64 559.08L510.72 559.28L511.80 559.47L512.88 559.66L513.96 559.84L515.03 560.01L516.11 560.17L517.19 560.33L518.27 560.48L519.35 560.62L520.43 560.76L521.51 560.89L522.59 561.01L523.67 561.13L524.75 561.25L525.83 561.36L526.91 561.46L527.99 561.56L529.07 561.65L530.15 561.74L531.23 561.83L532.30 561.91L533.38 561.99L534.46 562.06L535.54 562.13L536.62 562.20L537.70 562.26L538.78 562.32L539.86 562.38L540.94 562.43L542.02 562.48L543.10 562.53L544.18 562.57L545.26 562.62L546.34 562.66L547.42 562.69L548.50 562.73L549.58 562.76L550.65 562.79L551.73 562.82L552.81 562.85L553.89 562.88L554.97 562.90L556.05 562.93L557.13 562.95L558.21 562.97L559.29 562.99L560.37 563.01L561.45 563.02L562.53 563.04L563.61 563.05L564.69 563.07L565.77 563.08L566.85 563.09L567.92 563.10L569.00 563.11L570.08 563.12L571.16 563.13L572.24 563.14L573.32 563.15L574.40 563.16L575.48 563.16L576.56 563.17L577.64 563.17L578.72 563.18L579.80 563.18L580.88 563.19L581.96 563.19L583.04 563.20L584.12 563.20L585.19 563.20L586.27 563.21L587.35 563.21L588.43 563.21L589.51 563.21L590.59 563.22L591.67 563.22L592.75 563.22L593.83 563.22L594.91 563.22L595.99 563.22L597.07 563.23L598.15 563.23L599.23 563.23L600.31 563.23L601.39 563.23L602.47 563.23L603.54 563.23L604.62 563.23L605.70 563.23L606.78 563.23L607.86 563.23L608.94 563.23L610.02 563.23L611.10 563.23L612.18 563.23L613.26 563.23L614.34 563.23L615.42 563.24L616.50 563.24L617.58 563.24L618.66 563.24L619.74 563.24L620.81 563.24L621.89 563.24L622.97 563.24L624.05 563.24L625.13 563.24L626.21 563.24L627.29 563.24L628.37 563.24L629.45 563.24L630.53 563.24L631.61 563.24L632.69 563.24L633.77 563.24L634.85 563.24L635.93 563.24L637.01 563.24L638.09 563.24L639.16 563.24L640.24 563.24L641.32 563.24L642.40 563.24L643.48 563.24L644.56 563.24L645.64 563.24L646.72 563.24L647.80 563.24L648.88 563.24L649.96 563.24L651.04 563.24L652.12 563.24L653.20 563.24L654.28 563.24L655.36 563.24L656.43 563.24L657.51 563.24L658.59 563.24L659.67 563.24L660.75 563.24" stroke-dasharray="24.180 16.120"/></g><g clip-path="url(#cr)" fill="none" stroke="#000" stroke-width="4.300" stroke-linecap="round" stroke-linejoin="round"><path d="M917.55 -358.50L917.99 -241.98L919.53 -72.52L921.08 24.52L922.62 88.73L924.16 134.92L925.70 170.03L927.24 197.77L928.79 220.32L930.33 239.09L931.87 254.97L933.41 268.61L934.95 280.47L936.50 290.89L938.04 300.11L939.58 308.35L941.12 315.75L942.66 322.43L944.21 328.50L945.75 334.04L947.29 339.11L948.83 343.78L950.37 348.07L951.92 352.05L953.46 355.74L955.00 359.17L956.54 362.36L958.08 365.34L959.63 368.13L961.17 370.75L962.71 373.20L964.25 375.51L965.79 377.68L967.34 379.72L968.88 381.65L970.42 383.47L971.96 385.19L973.50 386.82L975.05 388.36L976.59 389.82L978.13 391.21L979.67 392.52L981.21 393.77L982.76 394.95L984.30 396.08L985.84 397.14L987.38 398.16L988.92 399.13L990.47 400.04L992.01 400.92L993.55 401.75L995.09 402.54L996.63 403.29L998.17 404.01L999.72 404.69L1001.26 405.33L1002.80 405.95L1004.34 406.53L1005.88 407.09L1007.43 407.61L1008.97 408.11L1010.51 408.59L1012.05 409.04L1013.59 409.46L1015.14 409.87L1016.68 410.25L1018.22 410.61L1019.76 410.95L1021.30 411.27L1022.85 411.57L1024.39 411.85L1025.93 412.11L1027.47 412.36L1029.01 412.59L1030.56 412.80L1032.10 413.00L1033.64 413.19L1035.18 413.35L1036.72 413.51L1038.27 413.65L1039.81 413.78L1041.35 413.89L1042.89 413.99L1044.43 414.08L1045.98 414.16L1047.52 414.23L1049.06 414.28L1050.60 414.32L1052.14 414.35L1053.69 414.38L1055.23 414.39L1056.77 414.39L1058.31 414.38L1059.85 414.36L1061.40 414.33L1062.94 414.30L1064.48 414.25L1066.02 414.20L1067.56 414.13L1069.11 414.06L1070.65 413.98L1072.19 413.89L1073.73 413.80L1075.27 413.70L1076.82 413.58L1078.36 413.46L1079.90 413.34L1081.44 413.20L1082.98 413.06L1084.53 412.92L1086.07 412.76L1087.61 412.60L1089.15 412.43L1090.69 412.26L1092.24 412.08L1093.78 411.89L1095.32 411.69L1096.86 411.49L1098.40 411.29L1099.95 411.08L1101.49 410.86L1103.03 410.63L1104.57 410.40L1106.11 410.17L1107.66 409.93L1109.20 409.68L1110.74 409.43L1112.28 409.17L1113.82 408.91L1115.37 408.64L1116.91 408.37L1118.45 408.09L1119.99 407.80L1121.53 407.52L1123.08 407.22L1124.62 406.92L1126.16 406.62L1127.70 406.31L1129.24 406.00L1130.79 405.68L1132.33 405.35L1133.87 405.03L1135.41 404.69L1136.95 404.36L1138.50 404.01L1140.04 403.67L1141.58 403.32L1143.12 402.96L1144.66 402.60L1146.21 402.24L1147.75 401.87L1149.29 401.50L1150.83 401.12L1152.37 400.74L1153.92 400.35L1155.46 399.96L1157.00 399.57L1158.54 399.17L1160.08 398.76L1161.63 398.36L1163.17 397.95L1164.71 397.53L1166.25 397.11L1167.79 396.69L1169.34 396.26L1170.88 395.83L1172.42 395.39L1173.96 394.95L1175.50 394.51L1177.05 394.06L1178.59 393.61L1180.13 393.15L1181.67 392.69L1183.21 392.23L1184.76 391.76L1186.30 391.29L1187.84 390.81L1189.38 390.34L1190.92 389.85L1192.46 389.37L1194.01 388.87L1195.55 388.38L1197.09 387.88L1198.63 387.38L1200.17 386.87L1201.72 386.36L1203.26 385.85L1204.80 385.33L1206.34 384.81L1207.88 384.29L1209.43 383.76L1210.97 383.22L1212.51 382.69L1214.05 382.15L1215.59 381.60L1217.14 381.06L1218.68 380.50L1220.22 379.95L1221.76 379.39L1223.30 378.83L1224.85 378.26L1226.39 377.69L1227.93 377.12L1229.47 376.54L1231.01 375.96L1232.56 375.37L1234.10 374.79L1235.64 374.19L1237.18 373.60L1238.72 373.00L1240.27 372.39L1241.81 371.79L1243.35 371.18L1244.89 370.56L1246.43 369.94L1247.98 369.32L1249.52 368.69L1251.06 368.06L1252.60 367.43L1254.14 366.79L1255.69 366.15L1257.23 365.51L1258.77 364.86L1260.31 364.21L1261.85 363.55L1263.40 362.89L1264.94 362.23L1266.48 361.56L1268.02 360.89L1269.56 360.22L1271.11 359.54L1272.65 358.86L1274.19 358.17L1275.73 357.48L1277.27 356.79L1278.82 356.09L1280.36 355.39L1281.90 354.69L1283.44 353.98L1284.98 353.27L1286.53 352.55L1288.07 351.83L1289.61 351.11L1291.15 350.38L1292.69 349.65L1294.24 348.91L1295.78 348.17L1297.32 347.43L1298.86 346.68L1300.40 345.93L1301.95 345.18L1303.49 344.42L1305.03 343.66L1306.57 342.89L1308.11 342.12L1309.66 341.35L1311.20 340.57L1312.74 339.79L1314.28 339.00L1315.82 338.21L1317.37 337.42L1318.91 336.62L1320.45 335.82L1321.99 335.01L1323.53 334.20L1325.08 333.39L1326.62 332.57L1328.16 331.75L1329.70 330.92L1331.24 330.09L1332.79 329.26L1334.33 328.42L1335.87 327.58L1337.41 326.73L1338.95 325.88L1340.50 325.03L1342.04 324.17L1343.58 323.31L1345.12 322.44L1346.66 321.57L1348.21 320.70L1349.75 319.82L1351.29 318.94L1352.83 318.05L1354.37 317.16L1355.92 316.26L1357.46 315.36L1359.00 314.46L1360.54 313.55L1362.08 312.63L1363.63 311.72L1365.17 310.80L1366.71 309.87L1368.25 308.94L1369.79 308.01L1371.34 307.07L1372.88 306.13L1374.42 305.18L1375.96 304.23L1377.50 303.27L1379.05 302.31L1380.59 301.35L1382.13 300.38L1383.67 299.40L1385.21 298.43L1386.75 297.44L1388.30 296.46L1389.84 295.46L1391.38 294.47L1392.92 293.47L1394.46 292.46L1396.01 291.45L1397.55 290.44L1399.09 289.42L1400.63 288.40L1402.17 287.37L1403.72 286.34L1405.26 285.30L1406.80 284.26L1408.34 283.21L1409.88 282.16L1411.43 281.11L1412.97 280.04L1414.51 278.98L1416.05 277.91L1417.59 276.83L1419.14 275.76L1420.68 274.67L1422.22 273.58L1423.76 272.49L1425.30 271.39L1426.85 270.29L1428.39 269.18L1429.93 268.07L1431.47 266.95L1433.01 265.82L1434.56 264.70L1436.10 263.56L1437.64 262.43L1439.18 261.28L1440.72 260.14L1442.27 258.98L1443.81 257.82L1445.35 256.66L1446.89 255.49L1448.43 254.32L1449.98 253.14L1451.52 251.96L1453.06 250.77L1454.60 249.58" stroke-dasharray="0 16.120"/><path d="M916.45 -322.87L917.99 14.22L919.53 147.20L921.08 220.87L922.62 268.48L924.16 302.11L925.70 327.30L927.24 346.96L928.79 362.79L930.33 375.84L931.87 386.80L933.41 396.16L934.95 404.24L936.50 411.31L938.04 417.54L939.58 423.08L941.12 428.04L942.66 432.51L944.21 436.56L945.75 440.24L947.29 443.61L948.83 446.70L950.37 449.55L951.92 452.18L953.46 454.62L955.00 456.89L956.54 459.00L958.08 460.98L959.63 462.83L961.17 464.56L962.71 466.18L964.25 467.72L965.79 469.16L967.34 470.52L968.88 471.81L970.42 473.03L971.96 474.19L973.50 475.28L975.05 476.32L976.59 477.31L978.13 478.25L979.67 479.15L981.21 480.01L982.76 480.82L984.30 481.60L985.84 482.34L987.38 483.05L988.92 483.73L990.47 484.38L992.01 485.01L993.55 485.60L995.09 486.18L996.63 486.72L998.17 487.25L999.72 487.75L1001.26 488.24L1002.80 488.70L1004.34 489.15L1005.88 489.58L1007.43 489.99L1008.97 490.39L1010.51 490.77L1012.05 491.13L1013.59 491.49L1015.14 491.82L1016.68 492.15L1018.22 492.46L1019.76 492.76L1021.30 493.05L1022.85 493.33L1024.39 493.60L1025.93 493.86L1027.47 494.10L1029.01 494.34L1030.56 494.57L1032.10 494.79L1033.64 495.00L1035.18 495.20L1036.72 495.40L1038.27 495.59L1039.81 495.77L1041.35 495.94L1042.89 496.10L1044.43 496.26L1045.98 496.41L1047.52 496.56L1049.06 496.70L1050.60 496.83L1052.14 496.96L1053.69 497.08L1055.23 497.20L1056.77 497.31L1058.31 497.41L1059.85 497.51L1061.40 497.61L1062.94 497.70L1064.48 497.79L1066.02 497.87L1067.56 497.94L1069.11 498.02L1070.65 498.08L1072.19 498.15L1073.73 498.21L1075.27 498.26L1076.82 498.31L1078.36 498.36L1079.90 498.41L1081.44 498.45L1082.98 498.48L1084.53 498.52L1086.07 498.55L1087.61 498.57L1089.15 498.60L1090.69 498.62L1092.24 498.64L1093.78 498.65L1095.32 498.66L1096.86 498.67L1098.40 498.68L1099.95 498.68L1101.49 498.68L1103.03 498.67L1104.57 498.67L1106.11 498.66L1107.66 498.65L1109.20 498.64L1110.74 498.62L1112.28 498.60L1113.82 498.58L1115.37 498.56L1116.91 498.53L1118.45 498.50L1119.99 498.47L1121.53 498.44L1123.08 498.41L1124.62 498.37L1126.16 498.33L1127.70 498.29L1129.24 498.25L1130.79 498.20L1132.33 498.15L1133.87 498.11L1135.41 498.05L1136.95 498.00L1138.50 497.95L1140.04 497.89L1141.58 497.83L1143.12 497.77L1144.66 497.71L1146.21 497.64L1147.75 497.58L1149.29 497.51L1150.83 497.44L1152.37 497.37L1153.92 497.30L1155.46 497.22L1157.00 497.15L1158.54 497.07L1160.08 496.99L1161.63 496.91L1163.17 496.83L1164.71 496.74L1166.25 496.66L1167.79 496.57L1169.34 496.48L1170.88 496.39L1172.42 496.30L1173.96 496.21L1175.50 496.12L1177.05 496.02L1178.59 495.92L1180.13 495.82L1181.67 495.72L1183.21 495.62L1184.76 495.52L1186.30 495.42L1187.84 495.31L1189.38 495.20L1190.92 495.10L1192.46 494.99L1194.01 494.87L1195.55 494.76L1197.09 494.65L1198.63 494.53L1200.17 494.42L1201.72 494.30L1203.26 494.18L1204.80 494.06L1206.34 493.94L1207.88 493.82L1209.43 493.70L1210.97 493.57L1212.51 493.45L1214.05 493.32L1215.59 493.19L1217.14 493.06L1218.68 492.93L1220.22 492.80L1221.76 492.67L1223.30 492.53L1224.85 492.40L1226.39 492.26L1227.93 492.12L1229.47 491.98L1231.01 491.85L1232.56 491.70L1234.10 491.56L1235.64 491.42L1237.18 491.27L1238.72 491.13L1240.27 490.98L1241.81 490.84L1243.35 490.69L1244.89 490.54L1246.43 490.39L1247.98 490.23L1249.52 490.08L1251.06 489.93L1252.60 489.77L1254.14 489.62L1255.69 489.46L1257.23 489.30L1258.77 489.14L1260.31 488.98L1261.85 488.82L1263.40 488.66L1264.94 488.49L1266.48 488.33L1268.02 488.16L1269.56 488.00L1271.11 487.83L1272.65 487.66L1274.19 487.49L1275.73 487.32L1277.27 487.15L1278.82 486.98L1280.36 486.80L1281.90 486.63L1283.44 486.45L1284.98 486.28L1286.53 486.10L1288.07 485.92L1289.61 485.74L1291.15 485.56L1292.69 485.38L1294.24 485.20L1295.78 485.01L1297.32 484.83L1298.86 484.64L1300.40 484.46L1301.95 484.27L1303.49 484.08L1305.03 483.89L1306.57 483.70L1308.11 483.51L1309.66 483.32L1311.20 483.12L1312.74 482.93L1314.28 482.73L1315.82 482.54L1317.37 482.34L1318.91 482.14L1320.45 481.94L1321.99 481.74L1323.53 481.54L1325.08 481.34L1326.62 481.14L1328.16 480.93L1329.70 480.73L1331.24 480.52L1332.79 480.31L1334.33 480.11L1335.87 479.90L1337.41 479.69L1338.95 479.48L1340.50 479.26L1342.04 479.05L1343.58 478.84L1345.12 478.62L1346.66 478.41L1348.21 478.19L1349.75 477.97L1351.29 477.76L1352.83 477.54L1354.37 477.32L1355.92 477.09L1357.46 476.87L1359.00 476.65L1360.54 476.42L1362.08 476.20L1363.63 475.97L1365.17 475.75L1366.71 475.52L1368.25 475.29L1369.79 475.06L1371.34 474.83L1372.88 474.60L1374.42 474.36L1375.96 474.13L1377.50 473.90L1379.05 473.66L1380.59 473.42L1382.13 473.19L1383.67 472.95L1385.21 472.71L1386.75 472.47L1388.30 472.22L1389.84 471.98L1391.38 471.74L1392.92 471.49L1394.46 471.25L1396.01 471.00L1397.55 470.76L1399.09 470.51L1400.63 470.26L1402.17 470.01L1403.72 469.76L1405.26 469.50L1406.80 469.25L1408.34 469.00L1409.88 468.74L1411.43 468.49L1412.97 468.23L1414.51 467.97L1416.05 467.71L1417.59 467.45L1419.14 467.19L1420.68 466.93L1422.22 466.66L1423.76 466.40L1425.30 466.14L1426.85 465.87L1428.39 465.60L1429.93 465.33L1431.47 465.07L1433.01 464.80L1434.56 464.52L1436.10 464.25L1437.64 463.98L1439.18 463.70L1440.72 463.43L1442.27 463.15L1443.81 462.88L1445.35 462.60L1446.89 462.32L1448.43 462.04L1449.98 461.76L1451.52 461.48L1453.06 461.19L1454.60 460.91" stroke-dasharray="12.090 20.150"/><path d="M916.45 111.76L917.99 193.40L919.53 232.96L921.08 257.69L922.62 275.04L924.16 288.05L925.70 298.25L927.24 306.49L928.79 313.29L930.33 319.00L931.87 323.87L933.41 328.05L934.95 331.68L936.50 334.85L938.04 337.62L939.58 340.07L941.12 342.23L942.66 344.14L944.21 345.84L945.75 347.34L947.29 348.67L948.83 349.85L950.37 350.89L951.92 351.81L953.46 352.61L955.00 353.31L956.54 353.92L958.08 354.44L959.63 354.87L961.17 355.24L962.71 355.53L964.25 355.76L965.79 355.93L967.34 356.04L968.88 356.10L970.42 356.11L971.96 356.07L973.50 355.98L975.05 355.86L976.59 355.69L978.13 355.48L979.67 355.24L981.21 354.96L982.76 354.65L984.30 354.31L985.84 353.93L987.38 353.53L988.92 353.09L990.47 352.63L992.01 352.14L993.55 351.63L995.09 351.09L996.63 350.53L998.17 349.94L999.72 349.33L1001.26 348.69L1002.80 348.04L1004.34 347.36L1005.88 346.67L1007.43 345.95L1008.97 345.21L1010.51 344.45L1012.05 343.67L1013.59 342.88L1015.14 342.06L1016.68 341.23L1018.22 340.38L1019.76 339.51L1021.30 338.63L1022.85 337.72L1024.39 336.81L1025.93 335.87L1027.47 334.92L1029.01 333.95L1030.56 332.96L1032.10 331.96L1033.64 330.94L1035.18 329.91L1036.72 328.86L1038.27 327.80L1039.81 326.72L1041.35 325.62L1042.89 324.51L1044.43 323.39L1045.98 322.25L1047.52 321.09L1049.06 319.92L1050.60 318.74L1052.14 317.54L1053.69 316.33L1055.23 315.10L1056.77 313.86L1058.31 312.60L1059.85 311.33L1061.40 310.04L1062.94 308.74L1064.48 307.43L1066.02 306.10L1067.56 304.75L1069.11 303.39L1070.65 302.02L1072.19 300.64L1073.73 299.23L1075.27 297.82L1076.82 296.39L1078.36 294.95L1079.90 293.49L1081.44 292.01L1082.98 290.53L1084.53 289.02L1086.07 287.51L1087.61 285.98L1089.15 284.43L1090.69 282.87L1092.24 281.30L1093.78 279.71L1095.32 278.11L1096.86 276.49L1098.40 274.85L1099.95 273.21L1101.49 271.54L1103.03 269.87L1104.57 268.17L1106.11 266.47L1107.66 264.74L1109.20 263.01L1110.74 261.25L1112.28 259.49L1113.82 257.70L1115.37 255.91L1116.91 254.09L1118.45 252.26L1119.99 250.42L1121.53 248.56L1123.08 246.68L1124.62 244.79L1126.16 242.88L1127.70 240.96L1129.24 239.02L1130.79 237.07L1132.33 235.10L1133.87 233.11L1135.41 231.11L1136.95 229.09L1138.50 227.05L1140.04 225.00L1141.58 222.93L1143.12 220.84L1144.66 218.74L1146.21 216.62L1147.75 214.49L1149.29 212.33L1150.83 210.16L1152.37 207.97L1153.92 205.77L1155.46 203.55L1157.00 201.31L1158.54 199.05L1160.08 196.78L1161.63 194.48L1163.17 192.17L1164.71 189.85L1166.25 187.50L1167.79 185.13L1169.34 182.75L1170.88 180.35L1172.42 177.93L1173.96 175.49L1175.50 173.03L1177.05 170.56L1178.59 168.06L1180.13 165.55L1181.67 163.02L1183.21 160.46L1184.76 157.89L1186.30 155.30L1187.84 152.69L1189.38 150.06L1190.92 147.41L1192.46 144.74L1194.01 142.05L1195.55 139.34L1197.09 136.60L1198.63 133.85L1200.17 131.08L1201.72 128.28L1203.26 125.47L1204.80 122.63L1206.34 119.78L1207.88 116.90L1209.43 114.00L1210.97 111.08L1212.51 108.14L1214.05 105.17L1215.59 102.18L1217.14 99.18L1218.68 96.14L1220.22 93.09L1221.76 90.01L1223.30 86.91L1224.85 83.79L1226.39 80.65L1227.93 77.48L1229.47 74.29L1231.01 71.07L1232.56 67.83L1234.10 64.57L1235.64 61.28L1237.18 57.97L1238.72 54.64L1240.27 51.28L1241.81 47.89L1243.35 44.49L1244.89 41.05L1246.43 37.59L1247.98 34.11L1249.52 30.60L1251.06 27.06L1252.60 23.50L1254.14 19.91L1255.69 16.30L1257.23 12.66L1258.77 9.00L1260.31 5.30L1261.85 1.58L1263.40 -2.16L1264.94 -5.94L1266.48 -9.74L1268.02 -13.57L1269.56 -17.42L1271.11 -21.31L1272.65 -25.22L1274.19 -29.16L1275.73 -33.13L1277.27 -37.13L1278.82 -41.16L1280.36 -45.21L1281.90 -49.30L1283.44 -53.41L1284.98 -57.56L1286.53 -61.73L1288.07 -65.94L1289.61 -70.17L1291.15 -74.44L1292.69 -78.74L1294.24 -83.06L1295.78 -87.42L1297.32 -91.81L1298.86 -96.23L1300.40 -100.69L1301.95 -105.17L1303.49 -109.69L1305.03 -114.24L1306.57 -118.82L1308.11 -123.44L1309.66 -128.09L1311.20 -132.77L1312.74 -137.48L1314.28 -142.23L1315.82 -147.02L1317.37 -151.84L1318.91 -156.69L1320.45 -161.58L1321.99 -166.50L1323.53 -171.46L1325.08 -176.45L1326.62 -181.48L1328.16 -186.54L1329.70 -191.64L1331.24 -196.78L1332.79 -201.96L1334.33 -207.17L1335.87 -212.42L1337.41 -217.70L1338.95 -223.03L1340.50 -228.39L1342.04 -233.79L1343.58 -239.23L1345.12 -244.70L1346.66 -250.22L1348.21 -255.78L1349.75 -261.37L1351.29 -267.01L1352.83 -272.68L1354.37 -278.40L1355.92 -284.16L1357.46 -289.95L1359.00 -295.79L1360.54 -301.67L1362.08 -307.60L1363.63 -313.56L1365.17 -319.57L1366.71 -325.62L1368.25 -331.71L1369.79 -337.85L1371.34 -344.03L1372.88 -350.25L1374.42 -356.52L1374.90 -358.50" /><path d="M914.91 563.24L916.45 561.02L917.99 560.06L919.53 559.30L921.08 558.63L922.62 558.02L924.16 557.45L925.70 556.91L927.24 556.39L928.79 555.88L930.33 555.39L931.87 554.90L933.41 554.42L934.95 553.94L936.50 553.47L938.04 553.00L939.58 552.53L941.12 552.06L942.66 551.59L944.21 551.12L945.75 550.65L947.29 550.17L948.83 549.70L950.37 549.22L951.92 548.73L953.46 548.25L955.00 547.76L956.54 547.26L958.08 546.76L959.63 546.26L961.17 545.75L962.71 545.23L964.25 544.71L965.79 544.19L967.34 543.65L968.88 543.11L970.42 542.57L971.96 542.02L973.50 541.46L975.05 540.89L976.59 540.32L978.13 539.74L979.67 539.15L981.21 538.55L982.76 537.95L984.30 537.34L985.84 536.72L987.38 536.09L988.92 535.45L990.47 534.80L992.01 534.15L993.55 533.48L995.09 532.81L996.63 532.12L998.17 531.43L999.72 530.73L1001.26 530.01L1002.80 529.29L1004.34 528.55L1005.88 527.80L1007.43 527.05L1008.97 526.28L1010.51 525.50L1012.05 524.71L1013.59 523.90L1015.14 523.09L1016.68 522.26L1018.22 521.42L1019.76 520.57L1021.30 519.70L1022.85 518.82L1024.39 517.93L1025.93 517.03L1027.47 516.11L1029.01 515.17L1030.56 514.23L1032.10 513.26L1033.64 512.29L1035.18 511.30L1036.72 510.29L1038.27 509.27L1039.81 508.23L1041.35 507.18L1042.89 506.11L1044.43 505.02L1045.98 503.92L1047.52 502.80L1049.06 501.66L1050.60 500.51L1052.14 499.34L1053.69 498.15L1055.23 496.94L1056.77 495.71L1058.31 494.46L1059.85 493.20L1061.40 491.91L1062.94 490.61L1064.48 489.28L1066.02 487.94L1067.56 486.57L1069.11 485.18L1070.65 483.78L1072.19 482.35L1073.73 480.89L1075.27 479.42L1076.82 477.92L1078.36 476.40L1079.90 474.85L1081.44 473.29L1082.98 471.69L1084.53 470.08L1086.07 468.43L1087.61 466.77L1089.15 465.07L1090.69 463.35L1092.24 461.61L1093.78 459.83L1095.32 458.03L1096.86 456.20L1098.40 454.35L1099.95 452.46L1101.49 450.54L1103.03 448.60L1104.57 446.62L1106.11 444.62L1107.66 442.58L1109.20 440.52L1110.74 438.42L1112.28 436.28L1113.82 434.12L1115.37 431.92L1116.91 429.69L1118.45 427.42L1119.99 425.12L1121.53 422.78L1123.08 420.40L1124.62 417.99L1126.16 415.54L1127.70 413.06L1129.24 410.53L1130.79 407.97L1132.33 405.37L1133.87 402.72L1135.41 400.04L1136.95 397.32L1138.50 394.55L1140.04 391.74L1141.58 388.88L1143.12 385.99L1144.66 383.04L1146.21 380.06L1147.75 377.02L1149.29 373.94L1150.83 370.81L1152.37 367.64L1153.92 364.41L1155.46 361.14L1157.00 357.81L1158.54 354.43L1160.08 351.00L1161.63 347.52L1163.17 343.99L1164.71 340.40L1166.25 336.75L1167.79 333.05L1169.34 329.29L1170.88 325.48L1172.42 321.60L1173.96 317.67L1175.50 313.67L1177.05 309.61L1178.59 305.49L1180.13 301.31L1181.67 297.06L1183.21 292.75L1184.76 288.37L1186.30 283.93L1187.84 279.41L1189.38 274.83L1190.92 270.18L1192.46 265.45L1194.01 260.65L1195.55 255.78L1197.09 250.83L1198.63 245.81L1200.17 240.71L1201.72 235.53L1203.26 230.28L1204.80 224.94L1206.34 219.52L1207.88 214.01L1209.43 208.43L1210.97 202.75L1212.51 196.99L1214.05 191.14L1215.59 185.20L1217.14 179.17L1218.68 173.05L1220.22 166.84L1221.76 160.52L1223.30 154.12L1224.85 147.61L1226.39 141.00L1227.93 134.30L1229.47 127.49L1231.01 120.57L1232.56 113.55L1234.10 106.42L1235.64 99.19L1237.18 91.84L1238.72 84.38L1240.27 76.81L1241.81 69.12L1243.35 61.31L1244.89 53.38L1246.43 45.33L1247.98 37.16L1249.52 28.86L1251.06 20.44L1252.60 11.89L1254.14 3.20L1255.69 -5.61L1257.23 -14.56L1258.77 -23.65L1260.31 -32.88L1261.85 -42.25L1263.40 -51.76L1264.94 -61.41L1266.48 -71.22L1268.02 -81.17L1269.56 -91.28L1271.11 -101.54L1272.65 -111.95L1274.19 -122.53L1275.73 -133.27L1277.27 -144.17L1278.82 -155.23L1280.36 -166.47L1281.90 -177.88L1283.44 -189.46L1284.98 -201.22L1286.53 -213.16L1288.07 -225.28L1289.61 -237.58L1291.15 -250.08L1292.69 -262.76L1294.24 -275.64L1295.78 -288.71L1297.32 -301.99L1298.86 -315.46L1300.40 -329.14L1301.95 -343.03L1303.49 -357.13L1303.64 -358.50" stroke-dasharray="0 16.120 12.090 16.120"/><path d="M922.50 -358.50L922.62 -349.29L924.16 -260.45L925.70 -192.94L927.24 -139.59L928.79 -96.21L930.33 -60.13L931.87 -29.59L933.41 -3.35L934.95 19.46L936.50 39.49L938.04 57.23L939.58 73.07L941.12 87.30L942.66 100.15L944.21 111.83L945.75 122.48L947.29 132.23L948.83 141.20L950.37 149.46L951.92 157.11L953.46 164.20L955.00 170.79L956.54 176.94L958.08 182.67L959.63 188.04L961.17 193.06L962.71 197.78L964.25 202.21L965.79 206.39L967.34 210.32L968.88 214.03L970.42 217.53L971.96 220.84L973.50 223.97L975.05 226.94L976.59 229.75L978.13 232.41L979.67 234.94L981.21 237.33L982.76 239.61L984.30 241.77L985.84 243.83L987.38 245.78L988.92 247.64L990.47 249.41L992.01 251.09L993.55 252.68L995.09 254.20L996.63 255.65L998.17 257.03L999.72 258.33L1001.26 259.58L1002.80 260.76L1004.34 261.88L1005.88 262.95L1007.43 263.96L1008.97 264.92L1010.51 265.84L1012.05 266.70L1013.59 267.52L1015.14 268.29L1016.68 269.03L1018.22 269.72L1019.76 270.37L1021.30 270.98L1022.85 271.56L1024.39 272.10L1025.93 272.61L1027.47 273.09L1029.01 273.53L1030.56 273.94L1032.10 274.32L1033.64 274.68L1035.18 275.00L1036.72 275.30L1038.27 275.57L1039.81 275.81L1041.35 276.03L1042.89 276.23L1044.43 276.40L1045.98 276.55L1047.52 276.68L1049.06 276.78L1050.60 276.86L1052.14 276.92L1053.69 276.97L1055.23 276.99L1056.77 276.99L1058.31 276.97L1059.85 276.94L1061.40 276.89L1062.94 276.82L1064.48 276.73L1066.02 276.62L1067.56 276.50L1069.11 276.36L1070.65 276.21L1072.19 276.04L1073.73 275.86L1075.27 275.66L1076.82 275.44L1078.36 275.21L1079.90 274.97L1081.44 274.71L1082.98 274.44L1084.53 274.16L1086.07 273.86L1087.61 273.55L1089.15 273.23L1090.69 272.89L1092.24 272.54L1093.78 272.18L1095.32 271.81L1096.86 271.42L1098.40 271.03L1099.95 270.62L1101.49 270.20L1103.03 269.77L1104.57 269.33L1106.11 268.88L1107.66 268.41L1109.20 267.94L1110.74 267.45L1112.28 266.96L1113.82 266.45L1115.37 265.94L1116.91 265.41L1118.45 264.87L1119.99 264.33L1121.53 263.77L1123.08 263.21L1124.62 262.63L1126.16 262.05L1127.70 261.45L1129.24 260.85L1130.79 260.24L1132.33 259.62L1133.87 258.99L1135.41 258.35L1136.95 257.70L1138.50 257.04L1140.04 256.37L1141.58 255.70L1143.12 255.02L1144.66 254.32L1146.21 253.62L1147.75 252.91L1149.29 252.20L1150.83 251.47L1152.37 250.74L1153.92 249.99L1155.46 249.24L1157.00 248.48L1158.54 247.72L1160.08 246.94L1161.63 246.16L1163.17 245.37L1164.71 244.57L1166.25 243.76L1167.79 242.95L1169.34 242.13L1170.88 241.29L1172.42 240.46L1173.96 239.61L1175.50 238.76L1177.05 237.90L1178.59 237.03L1180.13 236.15L1181.67 235.27L1183.21 234.38L1184.76 233.48L1186.30 232.57L1187.84 231.66L1189.38 230.73L1190.92 229.80L1192.46 228.87L1194.01 227.92L1195.55 226.97L1197.09 226.01L1198.63 225.05L1200.17 224.07L1201.72 223.09L1203.26 222.11L1204.80 221.11L1206.34 220.11L1207.88 219.10L1209.43 218.08L1210.97 217.06L1212.51 216.03L1214.05 214.99L1215.59 213.94L1217.14 212.89L1218.68 211.83L1220.22 210.76L1221.76 209.69L1223.30 208.60L1224.85 207.51L1226.39 206.42L1227.93 205.31L1229.47 204.20L1231.01 203.09L1232.56 201.96L1234.10 200.83L1235.64 199.69L1237.18 198.54L1238.72 197.39L1240.27 196.23L1241.81 195.06L1243.35 193.89L1244.89 192.71L1246.43 191.52L1247.98 190.32L1249.52 189.12L1251.06 187.91L1252.60 186.69L1254.14 185.46L1255.69 184.23L1257.23 182.99L1258.77 181.74L1260.31 180.49L1261.85 179.23L1263.40 177.96L1264.94 176.69L1266.48 175.40L1268.02 174.11L1269.56 172.82L1271.11 171.51L1272.65 170.20L1274.19 168.88L1275.73 167.56L1277.27 166.22L1278.82 164.88L1280.36 163.53L1281.90 162.18L1283.44 160.82L1284.98 159.45L1286.53 158.07L1288.07 156.68L1289.61 155.29L1291.15 153.89L1292.69 152.49L1294.24 151.07L1295.78 149.65L1297.32 148.22L1298.86 146.79L1300.40 145.34L1301.95 143.89L1303.49 142.43L1305.03 140.97L1306.57 139.49L1308.11 138.01L1309.66 136.52L1311.20 135.03L1312.74 133.52L1314.28 132.01L1315.82 130.49L1317.37 128.97L1318.91 127.43L1320.45 125.89L1321.99 124.34L1323.53 122.79L1325.08 121.22L1326.62 119.65L1328.16 118.07L1329.70 116.48L1331.24 114.89L1332.79 113.28L1334.33 111.67L1335.87 110.05L1337.41 108.42L1338.95 106.79L1340.50 105.15L1342.04 103.50L1343.58 101.84L1345.12 100.17L1346.66 98.50L1348.21 96.81L1349.75 95.12L1351.29 93.43L1352.83 91.72L1354.37 90.00L1355.92 88.28L1357.46 86.55L1359.00 84.81L1360.54 83.07L1362.08 81.31L1363.63 79.55L1365.17 77.77L1366.71 75.99L1368.25 74.21L1369.79 72.41L1371.34 70.61L1372.88 68.79L1374.42 66.97L1375.96 65.14L1377.50 63.30L1379.05 61.46L1380.59 59.60L1382.13 57.74L1383.67 55.86L1385.21 53.98L1386.75 52.09L1388.30 50.20L1389.84 48.29L1391.38 46.37L1392.92 44.45L1394.46 42.52L1396.01 40.58L1397.55 38.63L1399.09 36.67L1400.63 34.70L1402.17 32.72L1403.72 30.74L1405.26 28.74L1406.80 26.74L1408.34 24.73L1409.88 22.71L1411.43 20.68L1412.97 18.64L1414.51 16.59L1416.05 14.53L1417.59 12.46L1419.14 10.39L1420.68 8.30L1422.22 6.21L1423.76 4.11L1425.30 1.99L1426.85 -0.13L1428.39 -2.26L1429.93 -4.40L1431.47 -6.55L1433.01 -8.71L1434.56 -10.88L1436.10 -13.06L1437.64 -15.25L1439.18 -17.44L1440.72 -19.65L1442.27 -21.87L1443.81 -24.09L1445.35 -26.33L1446.89 -28.58L1448.43 -30.83L1449.98 -33.10L1451.52 -35.37L1453.06 -37.66L1454.60 -39.95" stroke-dasharray="24.180 16.120"/></g><g fill="none" stroke="#000" stroke-width="1.600" stroke-linecap="round"><rect x="99.76" y="1.80" width="582.99" height="582.80"/><rect x="893.40" y="1.80" width="582.90" height="582.80"/><path d="M121.06 584.85V597.65M229.00 584.85V597.65M336.94 584.85V597.65M444.87 584.85V597.65M552.81 584.85V597.65M660.75 584.85V597.65M99.47 563.24H86.67M99.47 486.05H86.67M99.47 408.86H86.67M99.47 331.67H86.67M99.47 254.48H86.67M99.47 177.29H86.67M99.47 100.10H86.67M99.47 22.91H86.67M914.91 584.85V597.65M992.01 584.85V597.65M1069.11 584.85V597.65M1146.21 584.85V597.65M1223.30 584.85V597.65M1300.40 584.85V597.65M1377.50 584.85V597.65M1454.60 584.85V597.65M893.32 563.24H880.52M893.32 417.20H880.52M893.32 271.17H880.52M893.32 125.14H880.52"/></g><g font-family="Liberation Sans" font-size="21.45" fill="#000" text-anchor="middle"><text x="121.06" y="631.50">0</text><text x="229.00" y="631.50">1</text><text x="336.94" y="631.50">2</text><text x="444.87" y="631.50">3</text><text x="552.81" y="631.50">4</text><text x="660.75" y="631.50">5</text><text x="914.91" y="631.50">0.0</text><text x="992.01" y="631.50">0.5</text><text x="1069.11" y="631.50">1.0</text><text x="1146.21" y="631.50">1.5</text><text x="1223.30" y="631.50">2.0</text><text x="1300.40" y="631.50">2.5</text><text x="1377.50" y="631.50">3.0</text><text x="1454.60" y="631.50">3.5</text><text transform="translate(69.20 563.24) rotate(-90)">0.0</text><text transform="translate(69.20 486.05) rotate(-90)">0.1</text><text transform="translate(69.20 408.86) rotate(-90)">0.2</text><text transform="translate(69.20 331.67) rotate(-90)">0.3</text><text transform="translate(69.20 254.48) rotate(-90)">0.4</text><text transform="translate(69.20 177.29) rotate(-90)">0.5</text><text transform="translate(69.20 100.10) rotate(-90)">0.6</text><text transform="translate(69.20 22.91) rotate(-90)">0.7</text><text transform="translate(863.00 563.24) rotate(-90)">0</text><text transform="translate(863.00 417.20) rotate(-90)">1</text><text transform="translate(863.00 271.17) rotate(-90)">2</text><text transform="translate(863.00 125.14) rotate(-90)">3</text><text x="390.91" y="682.8">y</text><text x="1184.76" y="682.8">y</text><text transform="translate(16.9 293.07) rotate(-90)">g(y)</text><text transform="translate(810.6 293.07) rotate(-90)">h(y)</text></g><path d="M350.20,739.0C343.60,744.6 339.20,752.6 339.20,764.4C339.20,776.2 343.60,784.2 350.20,789.8L351.00,789.0C345.60,783.6 342.00,775.6 342.00,764.4C342.00,753.2 345.60,745.2 351.00,739.8Z" fill="#000"/><path d="M381.40,739.0C388.00,744.6 392.40,752.6 392.40,764.4C392.40,776.2 388.00,784.2 381.40,789.8L380.60,789.0C386.00,783.6 389.60,775.6 389.60,764.4C389.60,753.2 386.00,745.2 380.60,739.8Z" fill="#000"/><path d="M1142.00,739.0C1135.40,744.6 1131.00,752.6 1131.00,764.4C1131.00,776.2 1135.40,784.2 1142.00,789.8L1142.80,789.0C1137.40,783.6 1133.80,775.6 1133.80,764.4C1133.80,753.2 1137.40,745.2 1142.80,739.8Z" fill="#000"/><path d="M1176.20,739.0C1182.80,744.6 1187.20,752.6 1187.20,764.4C1187.20,776.2 1182.80,784.2 1176.20,789.8L1175.40,789.0C1180.80,783.6 1184.40,775.6 1184.40,764.4C1184.40,753.2 1180.80,745.2 1175.40,739.8Z" fill="#000"/><g fill="none" stroke="#000"><path d="M358.6,759.4C359.6,756.6 362,755.2 364.4,755.2C368.6,755.2 371.8,757.4 372.1,761.6" stroke-width="1.5"/><path d="M372.85,760.8L372.85,774.8L369.75,774.8L369.75,764.5C369.9,762.8 370.8,761.3 371.6,760.6Z" fill="#000" stroke="none"/><path d="M371.5,774C371.8,776.2 373,777.2 374.6,777.2C376.4,777.2 377.3,775.2 377.4,770.2" stroke-width="1.3"/></g><circle cx="359.2" cy="760.7" r="1.9" fill="#000"/><path fill="#000" fill-rule="evenodd" d="M370.2,764.1C364,764.5 355.7,766.4 355.7,771.9C355.7,775.5 358.6,778 362.8,778C366.6,778 369.6,775.5 370.5,772.2L370.5,770.5C369.8,774.2 367.2,776.5 364.2,776.5C361,776.5 358.9,774.4 358.9,771.9C358.9,767.6 364,765.5 370.2,765.3Z"/><path fill="#000" d="M1146.2,742.9L1153.7,741.9L1153.7,776.3L1151.0,777.4L1150.6,776.9L1150.6,744.2L1146.4,744.4Z"/><path fill="#000" fill-rule="evenodd" d="M1153.6,759C1155.2,756.4 1157.6,754.9 1160.6,754.9C1166.8,754.9 1171.4,759.9 1171.4,766.3C1171.4,772.7 1166.6,777.8 1160.4,777.8C1157.4,777.8 1155.1,776 1153.6,773.4ZM1153.6,766.3C1153.6,760.6 1156.4,756.2 1160.4,756.2C1165.2,756.2 1168.2,760.4 1168.2,766.3C1168.2,772.2 1165.2,776.5 1160.4,776.5C1156.4,776.5 1153.6,772.2 1153.6,766.3Z"/><rect x="504.50" y="1.80" width="178.25" height="123.05" fill="none" stroke="#000" stroke-width="1.600"/><path d="M519.30 22.22H550.20" fill="none" stroke="#000" stroke-width="2.85" stroke-linecap="round" stroke-dasharray="0 10.747"/><g font-family="Liberation Sans" font-size="18.30" fill="#000"><text x="565.50" y="26.75">ρ</text><text x="593.90" y="26.75">0.2</text><text x="654.60" y="26.75">0.8</text></g><rect x="580.20" y="19.73" width="9.1" height="1.15" fill="#000"/><rect x="580.20" y="23.23" width="9.1" height="1.15" fill="#000"/><rect x="640.50" y="19.73" width="9.1" height="1.15" fill="#000"/><rect x="640.50" y="23.23" width="9.1" height="1.15" fill="#000"/><path d="M628.30,13.80c0.6,1.2 1.9,1.8 3.0,1.2c0.9,-0.5 1.7,-1.0 2.5,-0.9M629.90,15.40c0.1,1.2 0.2,2.4 0.4,3.5M630.30,19.00c1.3,-0.5 3.0,-0.7 4.4,-0.7M630.30,19.00c-1.5,0.9 -2.3,2.2 -2.2,3.7c0.1,1.7 1.6,2.8 3.6,3.5c2.0,0.7 3.8,1.1 4.0,2.3c0.2,1.2 -1.3,2.0 -2.9,1.6" fill="none" stroke="#000" stroke-width="1.5" stroke-linecap="round"/><path d="M519.30 42.82H550.20" fill="none" stroke="#000" stroke-width="2.85" stroke-linecap="round" stroke-dasharray="8.060 13.433"/><g font-family="Liberation Sans" font-size="18.30" fill="#000"><text x="565.50" y="47.35">ρ</text><text x="593.90" y="47.35">0.4</text><text x="654.60" y="47.35">1</text></g><rect x="580.20" y="40.33" width="9.1" height="1.15" fill="#000"/><rect x="580.20" y="43.83" width="9.1" height="1.15" fill="#000"/><rect x="640.50" y="40.33" width="9.1" height="1.15" fill="#000"/><rect x="640.50" y="43.83" width="9.1" height="1.15" fill="#000"/><path d="M628.30,34.40c0.6,1.2 1.9,1.8 3.0,1.2c0.9,-0.5 1.7,-1.0 2.5,-0.9M629.90,36.00c0.1,1.2 0.2,2.4 0.4,3.5M630.30,39.60c1.3,-0.5 3.0,-0.7 4.4,-0.7M630.30,39.60c-1.5,0.9 -2.3,2.2 -2.2,3.7c0.1,1.7 1.6,2.8 3.6,3.5c2.0,0.7 3.8,1.1 4.0,2.3c0.2,1.2 -1.3,2.0 -2.9,1.6" fill="none" stroke="#000" stroke-width="1.5" stroke-linecap="round"/><path d="M519.30 63.42H550.20" fill="none" stroke="#000" stroke-width="2.85" stroke-linecap="round" /><g font-family="Liberation Sans" font-size="18.30" fill="#000"><text x="565.50" y="67.95">ρ</text><text x="593.90" y="67.95">0.1</text><text x="654.60" y="67.95">1.5</text></g><rect x="580.20" y="60.92" width="9.1" height="1.15" fill="#000"/><rect x="580.20" y="64.42" width="9.1" height="1.15" fill="#000"/><rect x="640.50" y="60.92" width="9.1" height="1.15" fill="#000"/><rect x="640.50" y="64.42" width="9.1" height="1.15" fill="#000"/><path d="M628.30,55.00c0.6,1.2 1.9,1.8 3.0,1.2c0.9,-0.5 1.7,-1.0 2.5,-0.9M629.90,56.60c0.1,1.2 0.2,2.4 0.4,3.5M630.30,60.20c1.3,-0.5 3.0,-0.7 4.4,-0.7M630.30,60.20c-1.5,0.9 -2.3,2.2 -2.2,3.7c0.1,1.7 1.6,2.8 3.6,3.5c2.0,0.7 3.8,1.1 4.0,2.3c0.2,1.2 -1.3,2.0 -2.9,1.6" fill="none" stroke="#000" stroke-width="1.5" stroke-linecap="round"/><path d="M519.30 84.02H550.20" fill="none" stroke="#000" stroke-width="2.85" stroke-linecap="round" stroke-dasharray="0 10.747 8.060 10.747"/><g font-family="Liberation Sans" font-size="18.30" fill="#000"><text x="565.50" y="88.55">ρ</text><text x="593.90" y="88.55">1.2</text><text x="654.60" y="88.55">0.5</text></g><rect x="580.20" y="81.53" width="9.1" height="1.15" fill="#000"/><rect x="580.20" y="85.03" width="9.1" height="1.15" fill="#000"/><rect x="640.50" y="81.53" width="9.1" height="1.15" fill="#000"/><rect x="640.50" y="85.03" width="9.1" height="1.15" fill="#000"/><path d="M628.30,75.60c0.6,1.2 1.9,1.8 3.0,1.2c0.9,-0.5 1.7,-1.0 2.5,-0.9M629.90,77.20c0.1,1.2 0.2,2.4 0.4,3.5M630.30,80.80c1.3,-0.5 3.0,-0.7 4.4,-0.7M630.30,80.80c-1.5,0.9 -2.3,2.2 -2.2,3.7c0.1,1.7 1.6,2.8 3.6,3.5c2.0,0.7 3.8,1.1 4.0,2.3c0.2,1.2 -1.3,2.0 -2.9,1.6" fill="none" stroke="#000" stroke-width="1.5" stroke-linecap="round"/><path d="M519.30 104.62H550.20" fill="none" stroke="#000" stroke-width="2.85" stroke-linecap="round" stroke-dasharray="16.120 10.747"/><g font-family="Liberation Sans" font-size="18.30" fill="#000"><text x="565.50" y="109.15">ρ</text><text x="593.90" y="109.15">0.4</text><text x="654.60" y="109.15">0.8</text></g><rect x="580.20" y="102.12" width="9.1" height="1.15" fill="#000"/><rect x="580.20" y="105.62" width="9.1" height="1.15" fill="#000"/><rect x="640.50" y="102.12" width="9.1" height="1.15" fill="#000"/><rect x="640.50" y="105.62" width="9.1" height="1.15" fill="#000"/><path d="M628.30,96.20c0.6,1.2 1.9,1.8 3.0,1.2c0.9,-0.5 1.7,-1.0 2.5,-0.9M629.90,97.80c0.1,1.2 0.2,2.4 0.4,3.5M630.30,101.40c1.3,-0.5 3.0,-0.7 4.4,-0.7M630.30,101.40c-1.5,0.9 -2.3,2.2 -2.2,3.7c0.1,1.7 1.6,2.8 3.6,3.5c2.0,0.7 3.8,1.1 4.0,2.3c0.2,1.2 -1.3,2.0 -2.9,1.6" fill="none" stroke="#000" stroke-width="1.5" stroke-linecap="round"/><rect x="992.50" y="1.80" width="178.25" height="123.05" fill="none" stroke="#000" stroke-width="1.600"/><path d="M1007.30 22.22H1038.20" fill="none" stroke="#000" stroke-width="2.85" stroke-linecap="round" stroke-dasharray="0 10.747"/><g font-family="Liberation Sans" font-size="18.30" fill="#000"><text x="1053.50" y="26.75">ρ</text><text x="1081.90" y="26.75">1.3</text><text x="1142.60" y="26.75">0.4</text></g><rect x="1068.20" y="19.73" width="9.1" height="1.15" fill="#000"/><rect x="1068.20" y="23.23" width="9.1" height="1.15" fill="#000"/><rect x="1128.50" y="19.73" width="9.1" height="1.15" fill="#000"/><rect x="1128.50" y="23.23" width="9.1" height="1.15" fill="#000"/><path d="M1116.30,13.80c0.6,1.2 1.9,1.8 3.0,1.2c0.9,-0.5 1.7,-1.0 2.5,-0.9M1117.90,15.40c0.1,1.2 0.2,2.4 0.4,3.5M1118.30,19.00c1.3,-0.5 3.0,-0.7 4.4,-0.7M1118.30,19.00c-1.5,0.9 -2.3,2.2 -2.2,3.7c0.1,1.7 1.6,2.8 3.6,3.5c2.0,0.7 3.8,1.1 4.0,2.3c0.2,1.2 -1.3,2.0 -2.9,1.6" fill="none" stroke="#000" stroke-width="1.5" stroke-linecap="round"/><path d="M1007.30 42.82H1038.20" fill="none" stroke="#000" stroke-width="2.85" stroke-linecap="round" stroke-dasharray="8.060 13.433"/><g font-family="Liberation Sans" font-size="18.30" fill="#000"><text x="1053.50" y="47.35">ρ</text><text x="1081.90" y="47.35">0.8</text><text x="1142.60" y="47.35">0.3</text></g><rect x="1068.20" y="40.33" width="9.1" height="1.15" fill="#000"/><rect x="1068.20" y="43.83" width="9.1" height="1.15" fill="#000"/><rect x="1128.50" y="40.33" width="9.1" height="1.15" fill="#000"/><rect x="1128.50" y="43.83" width="9.1" height="1.15" fill="#000"/><path d="M1116.30,34.40c0.6,1.2 1.9,1.8 3.0,1.2c0.9,-0.5 1.7,-1.0 2.5,-0.9M1117.90,36.00c0.1,1.2 0.2,2.4 0.4,3.5M1118.30,39.60c1.3,-0.5 3.0,-0.7 4.4,-0.7M1118.30,39.60c-1.5,0.9 -2.3,2.2 -2.2,3.7c0.1,1.7 1.6,2.8 3.6,3.5c2.0,0.7 3.8,1.1 4.0,2.3c0.2,1.2 -1.3,2.0 -2.9,1.6" fill="none" stroke="#000" stroke-width="1.5" stroke-linecap="round"/><path d="M1007.30 63.42H1038.20" fill="none" stroke="#000" stroke-width="2.85" stroke-linecap="round" /><g font-family="Liberation Sans" font-size="18.30" fill="#000"><text x="1053.50" y="67.95">ρ</text><text x="1081.90" y="67.95">1.1</text><text x="1142.60" y="67.95">0.7</text></g><rect x="1068.20" y="60.92" width="9.1" height="1.15" fill="#000"/><rect x="1068.20" y="64.42" width="9.1" height="1.15" fill="#000"/><rect x="1128.50" y="60.92" width="9.1" height="1.15" fill="#000"/><rect x="1128.50" y="64.42" width="9.1" height="1.15" fill="#000"/><path d="M1116.30,55.00c0.6,1.2 1.9,1.8 3.0,1.2c0.9,-0.5 1.7,-1.0 2.5,-0.9M1117.90,56.60c0.1,1.2 0.2,2.4 0.4,3.5M1118.30,60.20c1.3,-0.5 3.0,-0.7 4.4,-0.7M1118.30,60.20c-1.5,0.9 -2.3,2.2 -2.2,3.7c0.1,1.7 1.6,2.8 3.6,3.5c2.0,0.7 3.8,1.1 4.0,2.3c0.2,1.2 -1.3,2.0 -2.9,1.6" fill="none" stroke="#000" stroke-width="1.5" stroke-linecap="round"/><path d="M1007.30 84.02H1038.20" fill="none" stroke="#000" stroke-width="2.85" stroke-linecap="round" stroke-dasharray="0 10.747 8.060 10.747"/><g font-family="Liberation Sans" font-size="18.30" fill="#000"><text x="1053.50" y="88.55">ρ</text><text x="1081.90" y="88.55">0.1</text><text x="1142.60" y="88.55">1.5</text></g><rect x="1068.20" y="81.53" width="9.1" height="1.15" fill="#000"/><rect x="1068.20" y="85.03" width="9.1" height="1.15" fill="#000"/><rect x="1128.50" y="81.53" width="9.1" height="1.15" fill="#000"/><rect x="1128.50" y="85.03" width="9.1" height="1.15" fill="#000"/><path d="M1116.30,75.60c0.6,1.2 1.9,1.8 3.0,1.2c0.9,-0.5 1.7,-1.0 2.5,-0.9M1117.90,77.20c0.1,1.2 0.2,2.4 0.4,3.5M1118.30,80.80c1.3,-0.5 3.0,-0.7 4.4,-0.7M1118.30,80.80c-1.5,0.9 -2.3,2.2 -2.2,3.7c0.1,1.7 1.6,2.8 3.6,3.5c2.0,0.7 3.8,1.1 4.0,2.3c0.2,1.2 -1.3,2.0 -2.9,1.6" fill="none" stroke="#000" stroke-width="1.5" stroke-linecap="round"/><path d="M1007.30 104.62H1038.20" fill="none" stroke="#000" stroke-width="2.85" stroke-linecap="round" stroke-dasharray="16.120 10.747"/><g font-family="Liberation Sans" font-size="18.30" fill="#000"><text x="1053.50" y="109.15">ρ</text><text x="1081.90" y="109.15">2.5</text><text x="1142.60" y="109.15">0.4</text></g><rect x="1068.20" y="102.12" width="9.1" height="1.15" fill="#000"/><rect x="1068.20" y="105.62" width="9.1" height="1.15" fill="#000"/><rect x="1128.50" y="102.12" width="9.1" height="1.15" fill="#000"/><rect x="1128.50" y="105.62" width="9.1" height="1.15" fill="#000"/><path d="M1116.30,96.20c0.6,1.2 1.9,1.8 3.0,1.2c0.9,-0.5 1.7,-1.0 2.5,-0.9M1117.90,97.80c0.1,1.2 0.2,2.4 0.4,3.5M1118.30,101.40c1.3,-0.5 3.0,-0.7 4.4,-0.7M1118.30,101.40c-1.5,0.9 -2.3,2.2 -2.2,3.7c0.1,1.7 1.6,2.8 3.6,3.5c2.0,0.7 3.8,1.1 4.0,2.3c0.2,1.2 -1.3,2.0 -2.9,1.6" fill="none" stroke="#000" stroke-width="1.5" stroke-linecap="round"/></svg></body></html>
